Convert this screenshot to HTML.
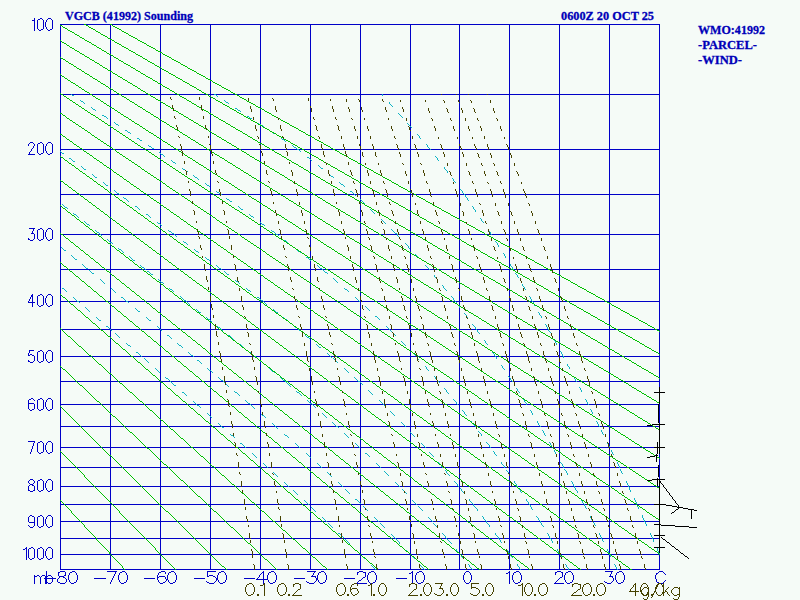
<!DOCTYPE html><html><head><meta charset="utf-8"><style>html,body{margin:0;padding:0;background:#f5fbf7;overflow:hidden}svg{display:block;position:absolute;left:0;top:0}.t{position:absolute;font-family:"Liberation Serif",serif;font-weight:bold;color:#0000b8;white-space:nowrap;transform-origin:0 0;-webkit-text-stroke:0.3px #0000b8}</style></head><body>
<svg width="800" height="600" viewBox="0 0 800 600" shape-rendering="crispEdges">
<path stroke="#0000c8" stroke-width="1" fill="none" d="M60 24.5h600M60 94.5h600M60 149.5h600M60 194.5h600M60 234.5h600M60 269.5h600M60 301.5h600M60 329.5h600M60 356.5h600M60 381.5h600M60 404.5h600M60 426.5h600M60 447.5h600M60 467.5h600M60 486.5h600M60 504.5h600M60 521.5h600M60 538.5h600M60 554.5h600M60 569.5h600M60.5 24v546M110.5 24v546M160.5 24v546M210.5 24v546M260.5 24v546M310.5 24v546M360.5 24v546M410.5 24v546M459.5 24v546M509.5 24v546M559.5 24v546M609.5 24v546M659.5 24v546"/>
<path stroke="#10b4c4" stroke-width="1" fill="none" d="M0 0m62 288.5h2m0 1h1m0 1h1m0 1h1m6 6h1m0 1h1m0 1h1m0 1h1m0 1h2m0 1h1m5 5h1m0 1h1m0 1h1m0 1h1m0 1h1m6 6h1m0 1h1m0 1h1m0 1h2m5 6h2m0 1h1m0 1h1m0 1h1m0 1h1m3 3h1m0 1h1m0 1h1m0 1h1m0 1h1m6 6h1m0 1h1m0 1h2m0 1h1m5 6h2m0 1h1m0 1h1m0 1h1m0 1h1m2 2h1m0 1h1m0 1h1m0 1h1m0 1h1m6 6h1m0 1h1m0 1h1m0 1h1m0 1h1m5 5h1m0 1h2m0 1h1m0 1h1m0 1h1m0 1h1m0 1h1m0 1h1m0 1h2m6 7h2m0 1h1m0 1h1m0 1h1m6 6h1m0 1h1m0 1h1m0 1h1m0 1h2m0 1h1m0 1h1m6 6h1m0 1h1m0 1h1m0 1h1m0 1h1m6 6h1m0 1h1m0 1h1m0 1h1m0 1h2m6 7h1m0 1h2m0 1h1m0 1h1m5 6h2m0 1h1m0 1h1m0 1h1m0 1h1m6 6h1m0 1h1m0 1h1m0 1h1m0 1h1m6 6h1m0 1h1m0 1h1m0 1h1m0 1h1m5 5h1m0 1h1m0 1h1m0 1h1m0 1h1m6 6h1m0 1h1m0 1h1m0 1h1m0 1h1m4 4h1m0 1h1m0 1h1m0 1h1m0 1h1m6 6h1m0 1h1m0 1h1m0 1h1m0 1h1m2 3h1m0 1h1m0 1h1m0 1h1m0 1h1m6 6h1m0 1h1m0 1h1m0 1h1m0 1h1m1 2h1m0 1h1m0 1h1m0 1h1m0 1h1m5 6h2m0 1h1m0 1h1m0 1h1m0 1h1m1 2h1m0 1h1m0 1h1m0 1h1m0 1h1m6 7h1m0 1h1m0 1h1m0 1h1m0 1h1m0 1h1m0 1h1m0 1h1m0 1h1m6 7h1m0 1h1m0 1h1m0 1h1m0 1h1m-315 -322h1m0 1h1m0 1h1m0 1h2m5 5h1m0 1h1m0 1h1m0 1h1m0 1h2m5 5h1m0 1h1m0 1h1m0 1h1m0 1h2m1 2h1m0 1h1m0 1h1m0 1h2m6 6h1m0 1h1m0 1h1m0 1h1m0 1h1m6 5h1m0 1h1m0 1h1m0 1h1m0 1h1m5 5h2m0 1h1m0 1h1m0 1h1m0 1h2m0 1h1m6 6h1m0 1h1m0 1h1m0 1h2m6 6h1m0 1h1m0 1h1m0 1h2m6 6h1m0 1h1m0 1h1m0 1h1m0 1h1m5 5h2m0 1h1m0 1h1m0 1h1m5 5h1m0 1h1m0 1h2m0 1h1m0 1h1m5 5h1m0 1h1m0 1h1m0 1h2m0 1h1m3 4h2m0 1h1m0 1h1m0 1h1m5 5h1m0 1h1m0 1h2m0 1h1m0 1h1m5 5h1m0 1h1m0 1h1m0 1h2m0 1h1m0 1h1m0 1h1m0 1h1m0 1h1m0 1h1m5 5h1m0 1h2m0 1h1m0 1h1m0 1h1m5 5h1m0 1h1m0 1h1m0 1h2m0 1h1m0 1h1m0 1h1m0 1h1m0 1h1m6 6h1m0 1h2m0 1h1m0 1h1m6 6h1m0 1h1m0 1h1m0 1h1m0 1h1m0 1h1m6 6h1m0 1h2m0 1h1m0 1h1m6 6h1m0 1h1m0 1h1m0 1h1m0 1h1m6 6h1m0 1h1m0 1h1m0 1h1m0 1h1m6 6h1m0 1h1m0 1h1m0 1h1m0 1h1m5 5h1m0 1h1m0 1h1m0 1h1m0 1h1m6 6h1m0 1h1m0 1h1m0 1h1m0 1h1m2 3h1m0 1h1m0 1h1m0 1h1m0 1h1m5 6h2m0 1h1m0 1h1m0 1h1m0 1h1m2 3h1m0 1h1m0 1h1m0 1h1m0 1h1m6 7h1m0 1h1m0 1h1m0 1h1m0 1h1m1 2h1m0 1h1m0 1h1m0 1h1m0 1h1m6 7h1m0 1h1m0 1h1m0 1h1m0 1h1m0 1h1m0 1h1m0 1h1m0 1h1m-1 1h1m6 7h1m0 1h1m0 1h1m0 1h1m0 1h1m0 1h1m0 1h1m0 1h1m0 1h1m5 7h1m0 1h1m0 1h1m0 1h1m0 1h1m-363 -365h1m0 1h1m0 1h1m0 1h2m0 1h1m5 5h1m0 1h2m0 1h1m0 1h1m0 1h1m5 4h1m0 1h1m0 1h1m0 1h2m0 1h1m5 5h1m0 1h1m0 1h2m0 1h1m0 1h1m0 1h1m5 4h1m0 1h1m0 1h1m0 1h2m0 1h1m5 5h1m0 1h2m0 1h1m0 1h1m0 1h1m5 4h1m0 1h1m0 1h1m0 1h1m0 1h2m5 5h1m0 1h1m0 1h2m0 1h1m0 1h1m1 2h2m0 1h1m0 1h1m0 1h2m5 5h1m0 1h1m0 1h1m0 1h2m0 1h1m5 5h1m0 1h2m0 1h1m0 1h1m6 5h1m0 1h1m0 1h1m0 1h1m0 1h2m0 1h1m0 1h1m0 1h1m0 1h1m6 5h1m0 1h1m0 1h1m0 1h2m5 5h1m0 1h1m0 1h2m0 1h1m0 1h1m5 5h1m0 1h2m0 1h1m0 1h1m0 1h1m5 5h2m0 1h1m0 1h1m0 1h1m0 1h1m5 5h2m0 1h1m0 1h1m0 1h1m6 5h1m0 1h1m0 1h1m0 1h1m0 1h2m3 4h1m0 1h2m0 1h1m0 1h1m5 5h1m0 1h1m0 1h1m0 1h2m0 1h1m5 5h1m0 1h1m0 1h1m0 1h2m0 1h1m0 1h1m0 1h1m0 1h1m0 1h1m0 1h1m5 5h1m0 1h2m0 1h1m0 1h1m0 1h1m5 5h1m0 1h1m0 1h1m0 1h2m0 1h1m0 1h1m0 1h1m0 1h1m6 6h1m0 1h1m0 1h1m0 1h1m0 1h1m5 5h1m0 1h1m0 1h1m0 1h1m0 1h2m0 1h1m5 6h1m0 1h1m0 1h1m0 1h1m0 1h1m6 6h1m0 1h1m0 1h1m0 1h1m0 1h1m5 6h2m0 1h1m0 1h1m0 1h1m6 7h1m0 1h1m0 1h1m0 1h1m0 1h1m3 4h1m0 1h1m0 1h1m0 1h1m0 1h1m6 7h1m0 1h1m0 1h1m0 1h1m0 1h1m2 3h1m0 1h1m0 1h1m0 1h1m0 1h1m5 7h1m0 1h1m0 1h1m0 1h1m0 1h1m1 2h1m0 1h1m0 1h1m0 1h1m0 1h1m5 7h1m0 1h1m0 1h1m0 1h1m0 1h1m0 2h1m0 1h1m0 1h1m0 1h1m0 1h1m4 6h1m0 1h1m0 1h1m0 1h1m-1 1h1m0 1h1m0 1h1m0 1h1m0 1h1m0 1h1m0 1h1m4 6h1m-1 1h1m0 1h1m0 1h1m0 1h1m0 1h1m0 1h1m-1 1h1m0 1h1m0 1h1m4 6h1m0 1h1m-1 1h1m0 1h1m0 1h1m0 1h1m-413 -418h1m0 1h1m0 1h2m5 5h2m0 1h1m0 1h1m0 1h2m6 5h1m0 1h1m0 1h1m0 1h2m6 5h1m0 1h1m0 1h1m0 1h2m6 5h1m0 1h1m0 1h1m0 1h2m6 5h1m0 1h1m0 1h1m0 1h2m0 1h1m3 3h1m0 1h2m0 1h1m0 1h1m0 1h1m6 5h2m0 1h1m0 1h1m0 1h1m6 5h2m0 1h1m0 1h1m0 1h1m6 5h1m0 1h2m0 1h1m0 1h1m6 5h1m0 1h2m0 1h1m0 1h2m0 1h1m0 1h1m0 1h1m6 5h1m0 1h2m0 1h1m0 1h1m6 5h1m0 1h1m0 1h2m0 1h1m6 5h1m0 1h1m0 1h2m0 1h1m6 5h1m0 1h1m0 1h1m0 1h2m0 1h1m2 2h1m0 1h1m0 1h1m0 1h2m6 6h1m0 1h2m0 1h1m0 1h1m6 5h1m0 1h1m0 1h2m0 1h1m6 6h2m0 1h1m0 1h1m0 1h2m0 1h1m0 1h1m0 1h1m0 1h1m6 5h1m0 1h1m0 1h1m0 1h2m5 5h1m0 1h1m0 1h2m0 1h1m0 1h1m5 5h1m0 1h2m0 1h1m0 1h1m0 1h1m5 5h1m0 1h1m0 1h2m0 1h1m6 6h1m0 1h1m0 1h1m0 1h2m6 6h1m0 1h1m0 1h1m0 1h1m0 1h1m1 1h1m0 1h1m0 1h1m0 1h1m0 1h1m6 6h1m0 1h1m0 1h1m0 1h1m0 1h1m5 5h1m0 1h1m0 1h1m0 1h1m0 1h2m0 1h1m0 1h1m0 1h1m5 6h1m0 1h1m0 1h1m0 1h1m0 1h1m6 6h1m0 1h1m0 1h1m0 1h1m0 1h1m0 1h1m5 6h1m0 1h1m0 1h1m0 1h1m0 1h1m6 7h1m0 1h1m0 1h1m0 1h1m0 1h1m4 6h1m0 1h1m0 1h1m0 1h1m0 1h1m6 7h1m0 1h1m0 1h1m0 1h1m0 1h1m3 5h1m0 1h1m0 1h1m0 1h1m0 1h1m4 6h1m0 1h1m0 1h1m0 1h1m-1 1h1m0 1h1m2 3h1m0 1h1m-1 1h1m0 1h1m0 1h1m0 1h1m4 6h1m0 1h1m0 1h1m0 1h1m-1 1h1m0 1h1m1 2h1m0 1h1m-1 1h1m0 1h1m0 1h1m0 1h1m4 6h1m-1 1h1m0 1h1m0 1h1m0 1h1m0 1h1m-1 1h1m0 1h1m0 1h1m0 1h1m0 1h1m-1 1h1m4 6h1m0 1h1m-1 1h1m0 1h1m0 1h1m0 1h1m-1 1h1m0 1h1m0 1h1m0 1h1m-1 1h1m5 7h1m-1 1h1m0 1h1m0 1h1m0 1h1m-1 1h1m0 1h1m0 1h1m-1 1h1m0 1h1m4 7h1m0 1h1m0 1h1m-1 1h1m0 1h1m0 1h1m-1 1h1m0 1h1m0 1h1m4 7h1m-1 1h1m0 1h1m0 1h1m-1 1h1m0 1h1m-450 -475h1m0 1h2m6 5h1m0 1h2m0 1h1m0 1h1m6 4h1m0 1h1m0 1h2m0 1h1m6 5h2m0 1h2m0 1h1m0 1h1m6 4h1m0 1h1m0 1h2m0 1h1m6 5h2m0 1h1m0 1h2m0 1h1m6 5h2m0 1h1m0 1h2m6 5h1m0 1h2m0 1h1m0 1h2m5 4h1m0 1h1m0 1h2m0 1h1m0 1h1m6 4h1m0 1h1m0 1h2m0 1h1m6 5h1m0 1h2m0 1h1m0 1h2m5 4h1m0 1h1m0 1h2m0 1h1m0 1h1m6 4h1m0 1h1m0 1h2m0 1h1m6 5h1m0 1h2m0 1h1m0 1h2m4 4h1m0 1h2m0 1h1m0 1h2m6 5h1m0 1h1m0 1h1m0 1h2m6 5h1m0 1h1m0 1h2m0 1h1m6 5h1m0 1h1m0 1h2m0 1h1m6 5h1m0 1h2m0 1h1m0 1h1m0 1h2m0 1h1m5 5h2m0 1h1m0 1h1m0 1h1m6 5h1m0 1h1m0 1h1m0 1h2m0 1h1m5 5h2m0 1h1m0 1h1m0 1h1m6 5h1m0 1h1m0 1h1m0 1h2m0 1h1m0 1h1m0 1h1m0 1h2m0 1h1m5 5h1m0 1h1m0 1h1m0 1h1m0 1h1m6 6h1m0 1h2m0 1h1m0 1h1m6 6h1m0 1h1m0 1h1m0 1h1m0 1h1m5 5h1m0 1h1m0 1h1m0 1h1m0 1h1m5 6h2m0 1h1m0 1h1m0 1h1m6 7h1m0 1h1m0 1h1m0 1h1m0 1h1m0 1h1m0 1h1m0 1h1m0 1h1m0 1h1m5 6h1m0 1h1m0 1h1m0 1h1m0 1h1m6 7h1m0 1h1m0 1h1m0 1h1m0 1h1m0 1h1m-1 1h1m0 1h1m6 7h1m0 1h1m-1 1h1m0 1h1m0 1h1m5 6h1m0 1h1m-1 1h1m0 1h1m0 1h1m0 1h1m0 1h1m4 6h1m0 1h1m0 1h1m-1 1h1m0 1h1m0 1h1m4 6h1m0 1h1m0 1h1m0 1h1m-1 1h1m0 1h1m4 6h1m0 1h1m0 1h1m-1 1h1m0 1h1m0 1h1m4 6h1m-1 1h1m0 1h1m0 1h1m0 1h1m0 1h1m2 5h1m0 1h1m0 1h1m0 1h1m-1 1h1m4 7h1m0 1h1m0 1h1m0 1h1m-1 1h1m0 1h1m2 4h1m0 1h1m-1 1h1m0 1h1m0 1h1m4 7h1m-1 1h1m0 1h1m0 1h1m0 1h1m-1 1h1m1 3h1m0 1h1m0 1h1m-1 1h1m0 1h1m4 7h1m-1 1h1m0 1h1m0 1h1m-1 1h1m0 1h1m0 2h1m0 1h1m0 1h1m-1 1h1m0 1h1m4 7h1m-1 1h1m0 1h1m0 1h1m-1 1h1m0 1h1m0 1h1m-1 1h1m0 1h1m-1 1h1m0 1h1m3 7h1m0 1h1m0 1h1m-1 1h1m0 1h1m0 1h1m-1 1h1m0 1h1m-1 1h1m0 1h1m0 1h1m3 7h1m0 1h1m-1 1h1m0 1h1m-1 1h1m0 1h1m0 1h1m-1 1h1m0 1h1m-1 1h1m4 7h1m-1 1h1m0 1h1m-1 1h1m0 1h1m0 1h1m-1 1h1m0 1h1m-1 1h1m3 7h1m0 1h1m-1 1h1m0 1h1m0 1h1m-1 1h1m-354.5 -475.5v1m1 -1v1m1 0v1m1 0v1m7 3v1m1 0v1m1 0v1m1 -1v1m1 0v1m7 4v1m1 -1v1m1 0v1m1 0v1m1 -1v1m1 0v1m7 4v1m1 -1v1m1 0v1m1 0v1m1 -1v1m7 4v1m1 0v1m1 -1v1m1 0v1m1 -1v1m1 0v1m6 3v1m1 0v1m1 -1v1m1 0v1m1 0v1m1 -1v1m7 4v1m1 0v1m1 -1v1m1 0v1m1 0v1m7 3v1m1 0v1m1 0v1m1 -1v1m1 0v1m1 0v1m1 -1v1m1 0v1m1 0v1m7 5v1m1 -1v1m1 0v1m1 0v1m1 0v1m7 4v1m1 0v1m1 0v1m1 0v1m1 -1v1m7 5v1m1 0v1m1 0v1m1 -1v1m1 0v1m6 4v1m1 0v1m1 0v1m1 -1v1m1 0v1m1 0v1m6 4v1m1 -1v1m1 0v1m1 0v1m1 0v1m1 0v1m5 3v1m1 0v1m1 0v1m1 0v1m1 0v1m6 5v1m1 0v1m1 0v1m1 0v1m1 0v1m7 5v1m1 0v1m1 0v1m1 0v1m1 0v1m6 5v1m1 0v1m1 0v1m1 0v1m1 0v1m1 -1v1m1 0v2m1 0v1m1 0v1m6 5v1m1 0v1m1 0v1m1 0v2m1 0v1m6 5v1m1 0v1m1 0v1m1 0v1m1 0v1m6 6v1m1 0v1m1 0v1m1 0v1m1 0v1m5 5v2m1 0v1m1 0v1m1 0v1m5 5v1m1 0v2m1 0v1m1 0v1m1 0v1m5 5v1m1 0v1m1 0v2m1 0v1m1 0v1m1 0v2m1 0v1m1 0v1m1 0v2m5 5v1m1 0v1m1 0v2m1 0v1m5 6v1m1 0v1m1 0v1m1 0v2m1 0v1m1 0v2m1 0v1m1 0v1m5 6v1m1 0v2m1 0v1m1 0v1m5 6v2m1 0v1m1 0v2m1 0v1m1 0v2m5 6v1m1 0v2m1 0v1m1 0v1m4 6v1m1 0v1m1 0v2m1 0v1m1 0v1m4 6v1m1 0v2m1 0v1m1 0v1m4 6v1m1 0v2m1 0v1m1 0v2m4 5v1m1 0v2m1 0v2m5 6v2m1 0v2m1 0v1m1 0v1m2 3v1m1 0v2m1 0v2m1 0v1m4 6v1m1 0v2m1 0v2m1 0v1m2 2v2m1 0v2m1 0v1m4 7v1m1 0v1m1 0v2m1 0v2m1 1v1m1 0v1m1 0v2m1 0v2m4 6v1m1 0v2m1 0v2m1 0v2m1 0v2m1 0v1m1 0v2m4 6v2m1 0v2m1 0v1m1 0v2m1 0v2m1 0v1m4 7v2m1 0v2m1 0v2m1 0v1m1 0v2m1 0v1m4 7v2m1 0v2m1 0v2m1 0v2m1 0v1m4 7v2m1 0v2m1 0v2m1 0v2m4 7v1m1 0v2m1 0v2m1 0v1m-235 -476v2m7 6v2m1 0v1m1 0v1m1 0v1m6 6v1m1 0v1m1 0v1m1 0v1m1 0v1m5 5v1m1 0v1m1 0v1m1 0v1m1 0v1m6 6v1m1 0v1m1 0v2m1 0v1m6 5v1m1 0v2m1 0v1m1 0v1m1 0v1m5 6v1m1 0v1m1 0v2m1 0v1m6 6v2m1 0v1m1 0v1m1 0v2m5 5v1m1 0v2m1 0v1m1 0v1m5 6v1m1 0v1m1 0v2m1 0v1m1 0v1m1 0v2m1 0v1m1 0v2m1 0v1m4 5v1m1 0v2m1 0v1m1 0v2m5 6v1m1 0v2m1 0v1m1 0v1m5 6v2m1 0v1m1 0v2m1 0v1m4 6v1m1 0v1m1 0v2m1 0v2m5 6v1m1 0v2m1 0v2m5 6v2m1 0v1m1 0v2m1 0v1m2 3v1m1 0v1m1 0v2m1 0v1m4 6v2m1 0v1m1 0v2m1 0v1m4 6v1m1 0v2m1 0v2m1 0v1m1 0v2m1 0v2m4 6v1m1 0v2m1 0v1m1 0v2m4 6v1m1 0v2m1 0v2m1 0v2m1 0v1m1 0v1m3 6v1m1 0v1m1 0v2m1 0v2m4 6v1m1 0v2m1 0v2m1 0v2m4 6v2m1 0v1m1 0v2m4 7v1m1 0v2m1 0v2m1 0v1m3 5v1m1 0v2m1 0v2m4 7v1m1 0v2m1 0v2m1 0v1m2 4v1m1 0v2m1 0v2m4 7v1m1 0v2m1 0v2m1 0v1m2 3v2m1 0v2m1 0v1m4 7v2m1 0v2m1 0v2m2 2v2m1 0v2m1 0v1m4 7v2m1 0v2m1 0v2m1 1v2m1 0v2m1 0v1m4 7v2m1 0v2m1 0v2m1 0v3m1 0v2m4 6v2m1 0v2m1 0v3m1 0v2m1 0v2m4 6v3m1 0v2m1 0v2m1 0v2m1 0v2m4 7v2m1 0v2m1 0v2m1 0v3m4 6v3m1 0v2m1 0v2"/>
<path stroke="#00c000" stroke-width="1" fill="none" d="M0 0m60.5 500v1m1 0v1m1 0v1m1 0v1m1 0v1m1 0v1m1 0v1m1 0v1m1 0v1m1 0v1m1 0v1m1 0v2m1 0v1m1 0v1m1 0v1m1 0v1m1 0v1m1 0v1m1 0v1m1 0v1m1 0v1m1 0v1m1 0v1m1 0v1m1 0v2m1 0v1m1 0v1m1 0v1m1 0v1m1 0v1m1 0v1m1 0v1m1 0v1m1 0v1m1 0v1m1 0v1m1 0v2m1 0v1m1 0v1m1 0v1m1 0v1m1 0v1m1 0v1m1 0v1m1 0v1m1 0v1m1 0v1m1 0v1m1 0v1m1 0v2m1 0v1m1 0v1m1 0v1m1 0v1m1 0v1m1 0v1m1 0v1m1 0v1m1 0v1m1 0v1m1 0v1m1 0v1m1 0v2m1 0v1m1 0v1m-64 -119v1m1 0v1m1 0v1m1 0v1m1 0v1m1 0v1m1 0v1m1 0v1m1 0v1m1 0v1m1 0v1m1 0v1m1 0v1m1 0v1m1 0v1m1 0v1m1 0v1m1 0v1m1 0v1m1 0v1m1 0v1m1 0v1m1 0v1m1 0v1m1 0v2m1 0v1m1 0v1m1 0v1m1 0v1m1 0v1m1 0v1m1 0v1m1 0v1m1 0v1m1 0v1m1 0v1m1 0v1m1 0v1m1 0v1m1 0v1m1 0v1m1 0v1m1 0v1m1 0v1m1 0v1m1 0v1m1 0v1m1 0v1m1 0v1m1 0v1m1 0v1m1 0v1m1 0v1m1 0v1m1 0v1m1 0v1m1 0v1m1 0v1m1 0v1m1 0v2m1 0v1m1 0v1m1 0v1m1 0v1m1 0v1m1 0v1m1 0v1m1 0v1m1 0v1m1 0v1m1 0v1m1 0v1m1 0v1m1 0v1m1 0v1m1 0v1m1 0v1m1 0v1m1 0v1m1 0v1m1 0v1m1 0v1m1 0v1m1 0v1m1 0v1m1 0v1m1 0v1m1 0v1m1 0v1m1 0v1m1 0v1m1 0v1m1 0v1m1 0v1m1 0v1m1 0v2m1 0v1m1 0v1m1 0v1m1 0v1m1 0v1m1 0v1m1 0v1m1 0v1m1 0v1m1 0v1m1 0v1m1 0v1m1 0v1m1 0v1m1 0v1m1 0v1m1 0v1m1 0v1m1 0v1m1 0v1m-115.5 -163.5h1m0 1h1m0 1h1m0 1h1m0 1h1m0 1h1m0 1h1m0 1h1m0 1h1m0 1h1m0 1h1m0 1h1m0 1h1m0 1h1m0 1h1m0 1h1m0 1h1m0 1h1m0 1h1m0 1h1m0 1h1m0 1h1m0 1h1m0 1h1m0 1h1m0 1h1m0 1h1m0 1h1m0 1h1m0 1h1m0 1h1m0 1h1m0 1h1m0 1h1m0 1h1m0 1h1m0 1h1m0 1h1m0 1h1m0 1h1m0 1h1m0 1h1m0 1h1m0 1h1m0 1h1m0 1h1m0 1h1m0 1h1m0 1h1m0 1h2m0 1h1m0 1h1m0 1h1m0 1h1m0 1h1m0 1h1m0 1h1m0 1h1m0 1h1m0 1h1m0 1h1m0 1h1m0 1h1m0 1h1m0 1h1m0 1h1m0 1h1m0 1h1m0 1h1m0 1h1m0 1h1m0 1h1m0 1h1m0 1h1m0 1h1m0 1h1m0 1h1m0 1h1m0 1h1m0 1h1m0 1h1m0 1h1m0 1h1m0 1h1m0 1h1m0 1h1m0 1h1m0 1h1m0 1h1m0 1h1m0 1h1m0 1h1m0 1h1m0 1h1m0 1h1m0 1h1m0 1h1m0 1h1m0 1h1m0 1h1m0 1h1m0 1h1m0 1h1m0 1h1m0 1h1m0 1h2m0 1h1m0 1h1m0 1h1m0 1h1m0 1h1m0 1h1m0 1h1m0 1h1m0 1h1m0 1h1m0 1h1m0 1h1m0 1h1m0 1h1m0 1h1m0 1h1m0 1h1m0 1h1m0 1h1m0 1h1m0 1h1m0 1h1m0 1h1m0 1h1m0 1h1m0 1h1m0 1h1m0 1h1m0 1h1m0 1h1m0 1h1m0 1h1m0 1h1m0 1h1m0 1h1m0 1h1m0 1h1m0 1h1m0 1h1m0 1h1m0 1h1m0 1h1m0 1h1m0 1h1m0 1h1m0 1h1m0 1h1m0 1h1m0 1h1m0 1h1m0 1h1m0 1h1m0 1h1m0 1h1m0 1h2m0 1h1m0 1h1m0 1h1m-167 -203h1m0 1h1m0 1h1m0 1h2m0 1h1m0 1h1m0 1h1m0 1h1m0 1h1m0 1h1m0 1h1m0 1h1m0 1h1m0 1h1m0 1h1m0 1h1m0 1h1m0 1h1m0 1h1m0 1h2m0 1h1m0 1h1m0 1h1m0 1h1m0 1h1m0 1h1m0 1h1m0 1h1m0 1h1m0 1h1m0 1h1m0 1h1m0 1h1m0 1h1m0 1h1m0 1h2m0 1h1m0 1h1m0 1h1m0 1h1m0 1h1m0 1h1m0 1h1m0 1h1m0 1h1m0 1h1m0 1h1m0 1h1m0 1h1m0 1h1m0 1h2m0 1h1m0 1h1m0 1h1m0 1h1m0 1h1m0 1h1m0 1h1m0 1h1m0 1h1m0 1h1m0 1h1m0 1h1m0 1h1m0 1h1m0 1h1m0 1h2m0 1h1m0 1h1m0 1h1m0 1h1m0 1h1m0 1h1m0 1h1m0 1h1m0 1h1m0 1h1m0 1h1m0 1h1m0 1h1m0 1h1m0 1h1m0 1h2m0 1h1m0 1h1m0 1h1m0 1h1m0 1h1m0 1h1m0 1h1m0 1h1m0 1h1m0 1h1m0 1h1m0 1h1m0 1h1m0 1h1m0 1h1m0 1h2m0 1h1m0 1h1m0 1h1m0 1h1m0 1h1m0 1h1m0 1h1m0 1h1m0 1h1m0 1h1m0 1h1m0 1h1m0 1h1m0 1h1m0 1h1m0 1h2m0 1h1m0 1h1m0 1h1m0 1h1m0 1h1m0 1h1m0 1h1m0 1h1m0 1h1m0 1h1m0 1h1m0 1h1m0 1h1m0 1h1m0 1h1m0 1h2m0 1h1m0 1h1m0 1h1m0 1h1m0 1h1m0 1h1m0 1h1m0 1h1m0 1h1m0 1h1m0 1h1m0 1h1m0 1h1m0 1h1m0 1h2m0 1h1m0 1h1m0 1h1m0 1h1m0 1h1m0 1h1m0 1h1m0 1h1m0 1h1m0 1h1m0 1h1m0 1h1m0 1h1m0 1h1m0 1h1m0 1h2m0 1h1m0 1h1m0 1h1m0 1h1m0 1h1m0 1h1m0 1h1m0 1h1m0 1h1m0 1h1m0 1h1m0 1h1m0 1h1m0 1h1m0 1h1m0 1h2m0 1h1m0 1h1m0 1h1m0 1h1m0 1h1m0 1h1m0 1h1m0 1h1m0 1h1m0 1h1m0 1h1m0 1h1m0 1h1m0 1h1m0 1h1m0 1h2m0 1h1m0 1h1m0 1h1m0 1h1m0 1h1m0 1h1m0 1h1m0 1h1m0 1h1m0 1h1m-217 -241h1m0 1h1m0 1h1m0 1h1m0 1h1m0 1h1m0 1h1m0 1h1m0 1h2m0 1h1m0 1h1m0 1h1m0 1h1m0 1h1m0 1h1m0 1h1m0 1h1m0 1h1m0 1h2m0 1h1m0 1h1m0 1h1m0 1h1m0 1h1m0 1h1m0 1h1m0 1h1m0 1h2m0 1h1m0 1h1m0 1h1m0 1h1m0 1h1m0 1h1m0 1h1m0 1h1m0 1h2m0 1h1m0 1h1m0 1h1m0 1h1m0 1h1m0 1h1m0 1h1m0 1h1m0 1h2m0 1h1m0 1h1m0 1h1m0 1h1m0 1h1m0 1h1m0 1h1m0 1h1m0 1h1m0 1h2m0 1h1m0 1h1m0 1h1m0 1h1m0 1h1m0 1h1m0 1h1m0 1h1m0 1h2m0 1h1m0 1h1m0 1h1m0 1h1m0 1h1m0 1h1m0 1h1m0 1h1m0 1h2m0 1h1m0 1h1m0 1h1m0 1h1m0 1h1m0 1h1m0 1h1m0 1h1m0 1h2m0 1h1m0 1h1m0 1h1m0 1h1m0 1h1m0 1h1m0 1h1m0 1h1m0 1h1m0 1h2m0 1h1m0 1h1m0 1h1m0 1h1m0 1h1m0 1h1m0 1h1m0 1h1m0 1h2m0 1h1m0 1h1m0 1h1m0 1h1m0 1h1m0 1h1m0 1h1m0 1h1m0 1h2m0 1h1m0 1h1m0 1h1m0 1h1m0 1h1m0 1h1m0 1h1m0 1h1m0 1h2m0 1h1m0 1h1m0 1h1m0 1h1m0 1h1m0 1h1m0 1h1m0 1h1m0 1h2m0 1h1m0 1h1m0 1h1m0 1h1m0 1h1m0 1h1m0 1h1m0 1h1m0 1h1m0 1h2m0 1h1m0 1h1m0 1h1m0 1h1m0 1h1m0 1h1m0 1h1m0 1h1m0 1h2m0 1h1m0 1h1m0 1h1m0 1h1m0 1h1m0 1h1m0 1h1m0 1h1m0 1h2m0 1h1m0 1h1m0 1h1m0 1h1m0 1h1m0 1h1m0 1h1m0 1h1m0 1h2m0 1h1m0 1h1m0 1h1m0 1h1m0 1h1m0 1h1m0 1h1m0 1h1m0 1h2m0 1h1m0 1h1m0 1h1m0 1h1m0 1h1m0 1h1m0 1h1m0 1h1m0 1h2m0 1h1m0 1h1m0 1h1m0 1h1m0 1h1m0 1h1m0 1h1m0 1h1m0 1h1m0 1h2m0 1h1m0 1h1m0 1h1m0 1h1m0 1h1m0 1h1m0 1h1m0 1h1m0 1h2m0 1h1m0 1h1m0 1h1m0 1h1m0 1h1m0 1h1m0 1h1m0 1h1m0 1h2m0 1h1m0 1h1m0 1h1m0 1h1m0 1h1m0 1h1m0 1h1m0 1h1m0 1h2m0 1h1m0 1h1m0 1h1m0 1h1m0 1h1m0 1h1m0 1h1m0 1h1m0 1h2m0 1h1m0 1h1m0 1h1m0 1h1m0 1h1m0 1h1m0 1h1m0 1h1m0 1h2m0 1h1m0 1h1m0 1h1m-268 -275h1m0 1h1m0 1h1m0 1h2m0 1h1m0 1h1m0 1h1m0 1h1m0 1h1m0 1h1m0 1h2m0 1h1m0 1h1m0 1h1m0 1h1m0 1h1m0 1h2m0 1h1m0 1h1m0 1h1m0 1h1m0 1h1m0 1h1m0 1h2m0 1h1m0 1h1m0 1h1m0 1h1m0 1h1m0 1h2m0 1h1m0 1h1m0 1h1m0 1h1m0 1h1m0 1h1m0 1h2m0 1h1m0 1h1m0 1h1m0 1h1m0 1h1m0 1h2m0 1h1m0 1h1m0 1h1m0 1h1m0 1h1m0 1h1m0 1h2m0 1h1m0 1h1m0 1h1m0 1h1m0 1h1m0 1h2m0 1h1m0 1h1m0 1h1m0 1h1m0 1h1m0 1h1m0 1h2m0 1h1m0 1h1m0 1h1m0 1h1m0 1h1m0 1h2m0 1h1m0 1h1m0 1h1m0 1h1m0 1h1m0 1h1m0 1h2m0 1h1m0 1h1m0 1h1m0 1h1m0 1h1m0 1h2m0 1h1m0 1h1m0 1h1m0 1h1m0 1h1m0 1h1m0 1h2m0 1h1m0 1h1m0 1h1m0 1h1m0 1h1m0 1h2m0 1h1m0 1h1m0 1h1m0 1h1m0 1h1m0 1h1m0 1h2m0 1h1m0 1h1m0 1h1m0 1h1m0 1h1m0 1h2m0 1h1m0 1h1m0 1h1m0 1h1m0 1h1m0 1h1m0 1h2m0 1h1m0 1h1m0 1h1m0 1h1m0 1h1m0 1h2m0 1h1m0 1h1m0 1h1m0 1h1m0 1h1m0 1h1m0 1h2m0 1h1m0 1h1m0 1h1m0 1h1m0 1h1m0 1h2m0 1h1m0 1h1m0 1h1m0 1h1m0 1h1m0 1h1m0 1h2m0 1h1m0 1h1m0 1h1m0 1h1m0 1h1m0 1h2m0 1h1m0 1h1m0 1h1m0 1h1m0 1h1m0 1h1m0 1h2m0 1h1m0 1h1m0 1h1m0 1h1m0 1h1m0 1h2m0 1h1m0 1h1m0 1h1m0 1h1m0 1h1m0 1h1m0 1h2m0 1h1m0 1h1m0 1h1m0 1h1m0 1h1m0 1h2m0 1h1m0 1h1m0 1h1m0 1h1m0 1h1m0 1h1m0 1h2m0 1h1m0 1h1m0 1h1m0 1h1m0 1h1m0 1h2m0 1h1m0 1h1m0 1h1m0 1h1m0 1h1m0 1h1m0 1h2m0 1h1m0 1h1m0 1h1m0 1h1m0 1h1m0 1h2m0 1h1m0 1h1m0 1h1m0 1h1m0 1h1m0 1h1m0 1h2m0 1h1m0 1h1m0 1h1m0 1h1m0 1h1m0 1h2m0 1h1m0 1h1m0 1h1m0 1h1m0 1h1m0 1h1m0 1h2m0 1h1m0 1h1m0 1h1m0 1h1m0 1h1m0 1h2m0 1h1m0 1h1m0 1h1m0 1h1m0 1h1m0 1h2m0 1h1m0 1h1m0 1h1m0 1h1m0 1h1m0 1h1m0 1h2m0 1h1m0 1h1m0 1h1m0 1h1m0 1h1m0 1h2m0 1h1m0 1h1m0 1h1m0 1h1m0 1h1m0 1h1m0 1h2m0 1h1m0 1h1m0 1h1m0 1h1m0 1h1m0 1h2m0 1h1m0 1h1m0 1h1m0 1h1m0 1h1m0 1h1m0 1h2m0 1h1m0 1h1m0 1h1m0 1h1m0 1h1m0 1h2m0 1h1m0 1h1m0 1h1m0 1h1m0 1h1m0 1h1m-318 -307h1m0 1h1m0 1h1m0 1h1m0 1h2m0 1h1m0 1h1m0 1h1m0 1h1m0 1h2m0 1h1m0 1h1m0 1h1m0 1h1m0 1h2m0 1h1m0 1h1m0 1h1m0 1h1m0 1h2m0 1h1m0 1h1m0 1h1m0 1h1m0 1h2m0 1h1m0 1h1m0 1h1m0 1h1m0 1h2m0 1h1m0 1h1m0 1h1m0 1h1m0 1h2m0 1h1m0 1h1m0 1h1m0 1h1m0 1h2m0 1h1m0 1h1m0 1h1m0 1h1m0 1h2m0 1h1m0 1h1m0 1h1m0 1h1m0 1h2m0 1h1m0 1h1m0 1h1m0 1h1m0 1h2m0 1h1m0 1h1m0 1h1m0 1h1m0 1h2m0 1h1m0 1h1m0 1h1m0 1h1m0 1h2m0 1h1m0 1h1m0 1h1m0 1h1m0 1h2m0 1h1m0 1h1m0 1h1m0 1h1m0 1h2m0 1h1m0 1h1m0 1h1m0 1h1m0 1h2m0 1h1m0 1h1m0 1h1m0 1h1m0 1h2m0 1h1m0 1h1m0 1h1m0 1h1m0 1h2m0 1h1m0 1h1m0 1h1m0 1h1m0 1h2m0 1h1m0 1h1m0 1h1m0 1h1m0 1h2m0 1h1m0 1h1m0 1h1m0 1h1m0 1h2m0 1h1m0 1h1m0 1h1m0 1h1m0 1h2m0 1h1m0 1h1m0 1h1m0 1h1m0 1h2m0 1h1m0 1h1m0 1h1m0 1h1m0 1h2m0 1h1m0 1h1m0 1h1m0 1h1m0 1h2m0 1h1m0 1h1m0 1h1m0 1h1m0 1h2m0 1h1m0 1h1m0 1h1m0 1h1m0 1h2m0 1h1m0 1h1m0 1h1m0 1h1m0 1h2m0 1h1m0 1h1m0 1h1m0 1h1m0 1h2m0 1h1m0 1h1m0 1h1m0 1h1m0 1h1m0 1h2m0 1h1m0 1h1m0 1h1m0 1h1m0 1h2m0 1h1m0 1h1m0 1h1m0 1h1m0 1h2m0 1h1m0 1h1m0 1h1m0 1h1m0 1h2m0 1h1m0 1h1m0 1h1m0 1h1m0 1h2m0 1h1m0 1h1m0 1h1m0 1h1m0 1h2m0 1h1m0 1h1m0 1h1m0 1h1m0 1h2m0 1h1m0 1h1m0 1h1m0 1h1m0 1h2m0 1h1m0 1h1m0 1h1m0 1h1m0 1h2m0 1h1m0 1h1m0 1h1m0 1h1m0 1h2m0 1h1m0 1h1m0 1h1m0 1h1m0 1h2m0 1h1m0 1h1m0 1h1m0 1h1m0 1h2m0 1h1m0 1h1m0 1h1m0 1h1m0 1h2m0 1h1m0 1h1m0 1h1m0 1h1m0 1h2m0 1h1m0 1h1m0 1h1m0 1h1m0 1h2m0 1h1m0 1h1m0 1h1m0 1h1m0 1h2m0 1h1m0 1h1m0 1h1m0 1h1m0 1h2m0 1h1m0 1h1m0 1h1m0 1h1m0 1h2m0 1h1m0 1h1m0 1h1m0 1h1m0 1h2m0 1h1m0 1h1m0 1h1m0 1h1m0 1h2m0 1h1m0 1h1m0 1h1m0 1h1m0 1h2m0 1h1m0 1h1m0 1h1m0 1h1m0 1h2m0 1h1m0 1h1m0 1h1m0 1h1m0 1h2m0 1h1m0 1h1m0 1h1m0 1h2m0 1h1m0 1h1m0 1h1m0 1h1m0 1h2m0 1h1m0 1h1m0 1h1m0 1h1m0 1h2m0 1h1m0 1h1m0 1h1m0 1h1m0 1h2m0 1h1m0 1h1m0 1h1m0 1h1m0 1h2m0 1h1m0 1h1m0 1h1m0 1h1m0 1h2m0 1h1m0 1h1m0 1h1m0 1h1m0 1h2m0 1h1m0 1h1m0 1h1m0 1h1m0 1h2m0 1h1m0 1h1m0 1h1m0 1h1m0 1h2m0 1h1m0 1h1m0 1h1m-369 -336h1m0 1h2m0 1h1m0 1h1m0 1h1m0 1h2m0 1h1m0 1h1m0 1h1m0 1h2m0 1h1m0 1h1m0 1h1m0 1h2m0 1h1m0 1h1m0 1h1m0 1h2m0 1h1m0 1h1m0 1h1m0 1h2m0 1h1m0 1h1m0 1h1m0 1h2m0 1h1m0 1h1m0 1h1m0 1h2m0 1h1m0 1h1m0 1h1m0 1h1m0 1h2m0 1h1m0 1h1m0 1h1m0 1h2m0 1h1m0 1h1m0 1h1m0 1h2m0 1h1m0 1h1m0 1h1m0 1h2m0 1h1m0 1h1m0 1h1m0 1h2m0 1h1m0 1h1m0 1h1m0 1h2m0 1h1m0 1h1m0 1h1m0 1h2m0 1h1m0 1h1m0 1h1m0 1h2m0 1h1m0 1h1m0 1h1m0 1h2m0 1h1m0 1h1m0 1h1m0 1h2m0 1h1m0 1h1m0 1h1m0 1h1m0 1h2m0 1h1m0 1h1m0 1h1m0 1h2m0 1h1m0 1h1m0 1h1m0 1h2m0 1h1m0 1h1m0 1h1m0 1h2m0 1h1m0 1h1m0 1h1m0 1h2m0 1h1m0 1h1m0 1h1m0 1h2m0 1h1m0 1h1m0 1h1m0 1h2m0 1h1m0 1h1m0 1h1m0 1h2m0 1h1m0 1h1m0 1h1m0 1h2m0 1h1m0 1h1m0 1h1m0 1h2m0 1h1m0 1h1m0 1h1m0 1h2m0 1h1m0 1h1m0 1h1m0 1h1m0 1h2m0 1h1m0 1h1m0 1h1m0 1h2m0 1h1m0 1h1m0 1h1m0 1h2m0 1h1m0 1h1m0 1h1m0 1h2m0 1h1m0 1h1m0 1h1m0 1h2m0 1h1m0 1h1m0 1h1m0 1h2m0 1h1m0 1h1m0 1h1m0 1h2m0 1h1m0 1h1m0 1h1m0 1h2m0 1h1m0 1h1m0 1h1m0 1h2m0 1h1m0 1h1m0 1h1m0 1h2m0 1h1m0 1h1m0 1h1m0 1h2m0 1h1m0 1h1m0 1h1m0 1h2m0 1h1m0 1h1m0 1h1m0 1h1m0 1h2m0 1h1m0 1h1m0 1h1m0 1h2m0 1h1m0 1h1m0 1h1m0 1h2m0 1h1m0 1h1m0 1h1m0 1h2m0 1h1m0 1h1m0 1h1m0 1h2m0 1h1m0 1h1m0 1h1m0 1h2m0 1h1m0 1h1m0 1h1m0 1h2m0 1h1m0 1h1m0 1h1m0 1h2m0 1h1m0 1h1m0 1h1m0 1h2m0 1h1m0 1h1m0 1h1m0 1h2m0 1h1m0 1h1m0 1h1m0 1h2m0 1h1m0 1h1m0 1h1m0 1h2m0 1h1m0 1h1m0 1h1m0 1h2m0 1h1m0 1h1m0 1h1m0 1h1m0 1h2m0 1h1m0 1h1m0 1h1m0 1h2m0 1h1m0 1h1m0 1h1m0 1h2m0 1h1m0 1h1m0 1h1m0 1h2m0 1h1m0 1h1m0 1h1m0 1h2m0 1h1m0 1h1m0 1h1m0 1h2m0 1h1m0 1h1m0 1h1m0 1h2m0 1h1m0 1h1m0 1h1m0 1h2m0 1h1m0 1h1m0 1h1m0 1h2m0 1h1m0 1h1m0 1h1m0 1h2m0 1h1m0 1h1m0 1h1m0 1h2m0 1h1m0 1h1m0 1h1m0 1h2m0 1h1m0 1h1m0 1h1m0 1h2m0 1h1m0 1h1m0 1h1m0 1h2m0 1h1m0 1h1m0 1h1m0 1h1m0 1h2m0 1h1m0 1h1m0 1h1m0 1h2m0 1h1m0 1h1m0 1h1m0 1h2m0 1h1m0 1h1m0 1h1m0 1h2m0 1h1m0 1h1m0 1h1m0 1h2m0 1h1m0 1h1m0 1h1m0 1h2m0 1h1m0 1h1m0 1h1m0 1h2m0 1h1m0 1h1m0 1h1m0 1h2m0 1h1m0 1h1m0 1h1m0 1h2m0 1h1m0 1h1m0 1h1m0 1h2m0 1h1m0 1h1m0 1h1m0 1h2m0 1h1m0 1h1m0 1h1m0 1h2m0 1h1m0 1h1m0 1h1m0 1h2m0 1h1m0 1h1m0 1h1m0 1h2m0 1h1m0 1h1m0 1h1m0 1h2m0 1h1m-420 -364h1m0 1h1m0 1h1m0 1h2m0 1h1m0 1h1m0 1h1m0 1h2m0 1h1m0 1h1m0 1h2m0 1h1m0 1h1m0 1h1m0 1h2m0 1h1m0 1h1m0 1h2m0 1h1m0 1h1m0 1h1m0 1h2m0 1h1m0 1h1m0 1h2m0 1h1m0 1h1m0 1h1m0 1h2m0 1h1m0 1h1m0 1h2m0 1h1m0 1h1m0 1h1m0 1h2m0 1h1m0 1h1m0 1h2m0 1h1m0 1h1m0 1h2m0 1h1m0 1h1m0 1h1m0 1h2m0 1h1m0 1h1m0 1h2m0 1h1m0 1h1m0 1h1m0 1h2m0 1h1m0 1h1m0 1h2m0 1h1m0 1h1m0 1h1m0 1h2m0 1h1m0 1h1m0 1h2m0 1h1m0 1h1m0 1h1m0 1h2m0 1h1m0 1h1m0 1h2m0 1h1m0 1h1m0 1h1m0 1h2m0 1h1m0 1h1m0 1h2m0 1h1m0 1h1m0 1h2m0 1h1m0 1h1m0 1h1m0 1h2m0 1h1m0 1h1m0 1h2m0 1h1m0 1h1m0 1h1m0 1h2m0 1h1m0 1h1m0 1h2m0 1h1m0 1h1m0 1h1m0 1h2m0 1h1m0 1h1m0 1h2m0 1h1m0 1h1m0 1h1m0 1h2m0 1h1m0 1h1m0 1h2m0 1h1m0 1h1m0 1h2m0 1h1m0 1h1m0 1h1m0 1h2m0 1h1m0 1h1m0 1h2m0 1h1m0 1h1m0 1h1m0 1h2m0 1h1m0 1h1m0 1h2m0 1h1m0 1h1m0 1h1m0 1h2m0 1h1m0 1h1m0 1h2m0 1h1m0 1h1m0 1h1m0 1h2m0 1h1m0 1h1m0 1h2m0 1h1m0 1h1m0 1h1m0 1h2m0 1h1m0 1h1m0 1h2m0 1h1m0 1h1m0 1h2m0 1h1m0 1h1m0 1h1m0 1h2m0 1h1m0 1h1m0 1h2m0 1h1m0 1h1m0 1h1m0 1h2m0 1h1m0 1h1m0 1h2m0 1h1m0 1h1m0 1h1m0 1h2m0 1h1m0 1h1m0 1h2m0 1h1m0 1h1m0 1h1m0 1h2m0 1h1m0 1h1m0 1h2m0 1h1m0 1h1m0 1h2m0 1h1m0 1h1m0 1h1m0 1h2m0 1h1m0 1h1m0 1h2m0 1h1m0 1h1m0 1h1m0 1h2m0 1h1m0 1h1m0 1h2m0 1h1m0 1h1m0 1h1m0 1h2m0 1h1m0 1h1m0 1h2m0 1h1m0 1h1m0 1h2m0 1h1m0 1h1m0 1h1m0 1h2m0 1h1m0 1h1m0 1h2m0 1h1m0 1h1m0 1h1m0 1h2m0 1h1m0 1h1m0 1h2m0 1h1m0 1h1m0 1h1m0 1h2m0 1h1m0 1h1m0 1h2m0 1h1m0 1h1m0 1h1m0 1h2m0 1h1m0 1h1m0 1h2m0 1h1m0 1h1m0 1h2m0 1h1m0 1h1m0 1h1m0 1h2m0 1h1m0 1h1m0 1h2m0 1h1m0 1h1m0 1h1m0 1h2m0 1h1m0 1h1m0 1h2m0 1h1m0 1h1m0 1h1m0 1h2m0 1h1m0 1h1m0 1h2m0 1h1m0 1h1m0 1h2m0 1h1m0 1h1m0 1h1m0 1h2m0 1h1m0 1h1m0 1h2m0 1h1m0 1h1m0 1h1m0 1h2m0 1h1m0 1h1m0 1h2m0 1h1m0 1h1m0 1h1m0 1h2m0 1h1m0 1h1m0 1h2m0 1h1m0 1h1m0 1h1m0 1h2m0 1h1m0 1h1m0 1h2m0 1h1m0 1h1m0 1h2m0 1h1m0 1h1m0 1h1m0 1h2m0 1h1m0 1h1m0 1h2m0 1h1m0 1h1m0 1h1m0 1h2m0 1h1m0 1h1m0 1h2m0 1h1m0 1h1m0 1h1m0 1h2m0 1h1m0 1h1m0 1h2m0 1h1m0 1h1m0 1h2m0 1h1m0 1h1m0 1h1m0 1h2m0 1h1m0 1h1m0 1h2m0 1h1m0 1h1m0 1h1m0 1h2m0 1h1m0 1h1m0 1h2m0 1h1m0 1h1m0 1h1m0 1h2m0 1h1m0 1h1m0 1h2m0 1h1m0 1h1m0 1h2m0 1h1m0 1h1m0 1h1m0 1h2m0 1h1m0 1h1m0 1h2m0 1h1m0 1h1m0 1h1m0 1h2m0 1h1m0 1h1m0 1h2m0 1h1m0 1h1m0 1h1m0 1h2m0 1h1m0 1h1m0 1h2m0 1h1m0 1h1m0 1h2m0 1h1m0 1h1m0 1h1m-470 -389h1m0 1h2m0 1h1m0 1h1m0 1h2m0 1h1m0 1h1m0 1h2m0 1h1m0 1h1m0 1h2m0 1h1m0 1h1m0 1h2m0 1h1m0 1h1m0 1h2m0 1h1m0 1h1m0 1h2m0 1h1m0 1h1m0 1h2m0 1h1m0 1h1m0 1h2m0 1h1m0 1h1m0 1h2m0 1h1m0 1h1m0 1h2m0 1h1m0 1h1m0 1h2m0 1h1m0 1h1m0 1h2m0 1h1m0 1h1m0 1h2m0 1h1m0 1h1m0 1h2m0 1h1m0 1h1m0 1h2m0 1h1m0 1h1m0 1h2m0 1h1m0 1h1m0 1h2m0 1h1m0 1h1m0 1h2m0 1h1m0 1h1m0 1h2m0 1h1m0 1h1m0 1h2m0 1h1m0 1h1m0 1h2m0 1h1m0 1h1m0 1h2m0 1h1m0 1h1m0 1h2m0 1h1m0 1h1m0 1h2m0 1h1m0 1h1m0 1h2m0 1h1m0 1h1m0 1h2m0 1h1m0 1h1m0 1h2m0 1h1m0 1h1m0 1h2m0 1h1m0 1h1m0 1h2m0 1h1m0 1h1m0 1h2m0 1h1m0 1h1m0 1h2m0 1h1m0 1h1m0 1h2m0 1h1m0 1h1m0 1h2m0 1h1m0 1h1m0 1h2m0 1h1m0 1h2m0 1h1m0 1h1m0 1h2m0 1h1m0 1h1m0 1h2m0 1h1m0 1h1m0 1h2m0 1h1m0 1h1m0 1h2m0 1h1m0 1h1m0 1h2m0 1h1m0 1h1m0 1h2m0 1h1m0 1h1m0 1h2m0 1h1m0 1h1m0 1h2m0 1h1m0 1h1m0 1h2m0 1h1m0 1h1m0 1h2m0 1h1m0 1h1m0 1h2m0 1h1m0 1h1m0 1h2m0 1h1m0 1h1m0 1h2m0 1h1m0 1h1m0 1h2m0 1h1m0 1h1m0 1h2m0 1h1m0 1h1m0 1h2m0 1h1m0 1h1m0 1h2m0 1h1m0 1h1m0 1h2m0 1h1m0 1h1m0 1h2m0 1h1m0 1h1m0 1h2m0 1h1m0 1h1m0 1h2m0 1h1m0 1h1m0 1h2m0 1h1m0 1h1m0 1h2m0 1h1m0 1h1m0 1h2m0 1h1m0 1h1m0 1h2m0 1h1m0 1h1m0 1h2m0 1h1m0 1h1m0 1h2m0 1h1m0 1h1m0 1h2m0 1h1m0 1h1m0 1h2m0 1h1m0 1h1m0 1h2m0 1h1m0 1h1m0 1h2m0 1h1m0 1h1m0 1h2m0 1h1m0 1h1m0 1h2m0 1h1m0 1h1m0 1h2m0 1h1m0 1h1m0 1h2m0 1h1m0 1h1m0 1h2m0 1h1m0 1h1m0 1h2m0 1h1m0 1h1m0 1h2m0 1h1m0 1h1m0 1h2m0 1h1m0 1h1m0 1h2m0 1h1m0 1h1m0 1h2m0 1h1m0 1h1m0 1h2m0 1h1m0 1h1m0 1h2m0 1h1m0 1h1m0 1h2m0 1h1m0 1h2m0 1h1m0 1h1m0 1h2m0 1h1m0 1h1m0 1h2m0 1h1m0 1h1m0 1h2m0 1h1m0 1h1m0 1h2m0 1h1m0 1h1m0 1h2m0 1h1m0 1h1m0 1h2m0 1h1m0 1h1m0 1h2m0 1h1m0 1h1m0 1h2m0 1h1m0 1h1m0 1h2m0 1h1m0 1h1m0 1h2m0 1h1m0 1h1m0 1h2m0 1h1m0 1h1m0 1h2m0 1h1m0 1h1m0 1h2m0 1h1m0 1h1m0 1h2m0 1h1m0 1h1m0 1h2m0 1h1m0 1h1m0 1h2m0 1h1m0 1h1m0 1h2m0 1h1m0 1h1m0 1h2m0 1h1m0 1h1m0 1h2m0 1h1m0 1h1m0 1h2m0 1h1m0 1h1m0 1h2m0 1h1m0 1h1m0 1h2m0 1h1m0 1h1m0 1h2m0 1h1m0 1h1m0 1h2m0 1h1m0 1h1m0 1h2m0 1h1m0 1h1m0 1h2m0 1h1m0 1h1m0 1h2m0 1h1m0 1h1m0 1h2m0 1h1m0 1h1m0 1h2m0 1h1m0 1h1m0 1h2m0 1h1m0 1h1m0 1h2m0 1h1m0 1h1m0 1h2m0 1h1m0 1h2m0 1h1m0 1h1m0 1h2m0 1h1m0 1h1m0 1h2m0 1h1m0 1h1m0 1h2m0 1h1m0 1h1m0 1h2m0 1h1m0 1h1m0 1h2m0 1h1m0 1h1m0 1h2m0 1h1m0 1h1m0 1h2m0 1h1m0 1h1m0 1h2m0 1h1m0 1h1m0 1h2m0 1h1m0 1h1m0 1h2m0 1h1m0 1h1m0 1h2m0 1h1m0 1h1m0 1h2m0 1h1m0 1h1m0 1h2m0 1h1m0 1h1m0 1h2m0 1h1m0 1h1m0 1h2m0 1h1m0 1h1m0 1h2m0 1h1m0 1h1m0 1h2m0 1h1m-521 -413h1m0 1h2m0 1h1m0 1h1m0 1h2m0 1h1m0 1h1m0 1h2m0 1h1m0 1h2m0 1h1m0 1h1m0 1h2m0 1h1m0 1h1m0 1h2m0 1h1m0 1h2m0 1h1m0 1h1m0 1h2m0 1h1m0 1h2m0 1h1m0 1h1m0 1h2m0 1h1m0 1h1m0 1h2m0 1h1m0 1h2m0 1h1m0 1h1m0 1h2m0 1h1m0 1h1m0 1h2m0 1h1m0 1h2m0 1h1m0 1h1m0 1h2m0 1h1m0 1h1m0 1h2m0 1h1m0 1h2m0 1h1m0 1h1m0 1h2m0 1h1m0 1h2m0 1h1m0 1h1m0 1h2m0 1h1m0 1h1m0 1h2m0 1h1m0 1h2m0 1h1m0 1h1m0 1h2m0 1h1m0 1h1m0 1h2m0 1h1m0 1h2m0 1h1m0 1h1m0 1h2m0 1h1m0 1h2m0 1h1m0 1h1m0 1h2m0 1h1m0 1h1m0 1h2m0 1h1m0 1h2m0 1h1m0 1h1m0 1h2m0 1h1m0 1h1m0 1h2m0 1h1m0 1h2m0 1h1m0 1h1m0 1h2m0 1h1m0 1h2m0 1h1m0 1h1m0 1h2m0 1h1m0 1h1m0 1h2m0 1h1m0 1h2m0 1h1m0 1h1m0 1h2m0 1h1m0 1h1m0 1h2m0 1h1m0 1h2m0 1h1m0 1h1m0 1h2m0 1h1m0 1h1m0 1h2m0 1h1m0 1h2m0 1h1m0 1h1m0 1h2m0 1h1m0 1h2m0 1h1m0 1h1m0 1h2m0 1h1m0 1h1m0 1h2m0 1h1m0 1h2m0 1h1m0 1h1m0 1h2m0 1h1m0 1h1m0 1h2m0 1h1m0 1h2m0 1h1m0 1h1m0 1h2m0 1h1m0 1h2m0 1h1m0 1h1m0 1h2m0 1h1m0 1h1m0 1h2m0 1h1m0 1h2m0 1h1m0 1h1m0 1h2m0 1h1m0 1h1m0 1h2m0 1h1m0 1h2m0 1h1m0 1h1m0 1h2m0 1h1m0 1h2m0 1h1m0 1h1m0 1h2m0 1h1m0 1h1m0 1h2m0 1h1m0 1h2m0 1h1m0 1h1m0 1h2m0 1h1m0 1h1m0 1h2m0 1h1m0 1h2m0 1h1m0 1h1m0 1h2m0 1h1m0 1h2m0 1h1m0 1h1m0 1h2m0 1h1m0 1h1m0 1h2m0 1h1m0 1h2m0 1h1m0 1h1m0 1h2m0 1h1m0 1h1m0 1h2m0 1h1m0 1h2m0 1h1m0 1h1m0 1h2m0 1h1m0 1h2m0 1h1m0 1h1m0 1h2m0 1h1m0 1h1m0 1h2m0 1h1m0 1h2m0 1h1m0 1h1m0 1h2m0 1h1m0 1h2m0 1h1m0 1h1m0 1h2m0 1h1m0 1h1m0 1h2m0 1h1m0 1h2m0 1h1m0 1h1m0 1h2m0 1h1m0 1h1m0 1h2m0 1h1m0 1h2m0 1h1m0 1h1m0 1h2m0 1h1m0 1h2m0 1h1m0 1h1m0 1h2m0 1h1m0 1h1m0 1h2m0 1h1m0 1h2m0 1h1m0 1h1m0 1h2m0 1h1m0 1h1m0 1h2m0 1h1m0 1h2m0 1h1m0 1h1m0 1h2m0 1h1m0 1h2m0 1h1m0 1h1m0 1h2m0 1h1m0 1h1m0 1h2m0 1h1m0 1h2m0 1h1m0 1h1m0 1h2m0 1h1m0 1h2m0 1h1m0 1h1m0 1h2m0 1h1m0 1h1m0 1h2m0 1h1m0 1h2m0 1h1m0 1h1m0 1h2m0 1h1m0 1h1m0 1h2m0 1h1m0 1h2m0 1h1m0 1h1m0 1h2m0 1h1m0 1h2m0 1h1m0 1h1m0 1h2m0 1h1m0 1h1m0 1h2m0 1h1m0 1h2m0 1h1m0 1h1m0 1h2m0 1h1m0 1h2m0 1h1m0 1h1m0 1h2m0 1h1m0 1h1m0 1h2m0 1h1m0 1h2m0 1h1m0 1h1m0 1h2m0 1h1m0 1h1m0 1h2m0 1h1m0 1h2m0 1h1m0 1h1m0 1h2m0 1h1m0 1h2m0 1h1m0 1h1m0 1h2m0 1h1m0 1h1m0 1h2m0 1h1m0 1h2m0 1h1m0 1h1m0 1h2m0 1h1m0 1h2m0 1h1m0 1h1m0 1h2m0 1h1m0 1h1m0 1h2m0 1h1m0 1h2m0 1h1m0 1h1m0 1h2m0 1h1m0 1h1m0 1h2m0 1h1m0 1h2m0 1h1m0 1h1m0 1h2m0 1h1m0 1h2m0 1h1m0 1h1m0 1h2m0 1h1m0 1h1m0 1h2m0 1h1m0 1h2m0 1h1m0 1h1m0 1h2m0 1h1m0 1h2m0 1h1m0 1h1m0 1h2m0 1h1m0 1h1m0 1h2m0 1h1m0 1h2m0 1h1m0 1h1m0 1h2m0 1h1m0 1h2m0 1h1m0 1h1m0 1h2m0 1h1m0 1h1m0 1h2m0 1h1m0 1h2m0 1h1m0 1h1m0 1h2m0 1h1m0 1h1m0 1h2m0 1h1m0 1h2m0 1h1m0 1h1m0 1h2m0 1h1m0 1h2m0 1h1m0 1h1m0 1h2m-572 -435h2m0 1h1m0 1h2m0 1h1m0 1h1m0 1h2m0 1h1m0 1h2m0 1h1m0 1h1m0 1h2m0 1h1m0 1h2m0 1h1m0 1h2m0 1h1m0 1h1m0 1h2m0 1h1m0 1h2m0 1h1m0 1h2m0 1h1m0 1h1m0 1h2m0 1h1m0 1h2m0 1h1m0 1h2m0 1h1m0 1h1m0 1h2m0 1h1m0 1h2m0 1h1m0 1h2m0 1h1m0 1h1m0 1h2m0 1h1m0 1h2m0 1h1m0 1h2m0 1h1m0 1h1m0 1h2m0 1h1m0 1h2m0 1h1m0 1h1m0 1h2m0 1h1m0 1h2m0 1h1m0 1h2m0 1h1m0 1h1m0 1h2m0 1h1m0 1h2m0 1h1m0 1h2m0 1h1m0 1h1m0 1h2m0 1h1m0 1h2m0 1h1m0 1h2m0 1h1m0 1h1m0 1h2m0 1h1m0 1h2m0 1h1m0 1h2m0 1h1m0 1h1m0 1h2m0 1h1m0 1h2m0 1h1m0 1h2m0 1h1m0 1h1m0 1h2m0 1h1m0 1h2m0 1h1m0 1h1m0 1h2m0 1h1m0 1h2m0 1h1m0 1h2m0 1h1m0 1h1m0 1h2m0 1h1m0 1h2m0 1h1m0 1h2m0 1h1m0 1h1m0 1h2m0 1h1m0 1h2m0 1h1m0 1h2m0 1h1m0 1h1m0 1h2m0 1h1m0 1h2m0 1h1m0 1h2m0 1h1m0 1h1m0 1h2m0 1h1m0 1h2m0 1h1m0 1h2m0 1h1m0 1h1m0 1h2m0 1h1m0 1h2m0 1h1m0 1h2m0 1h1m0 1h1m0 1h2m0 1h1m0 1h2m0 1h1m0 1h2m0 1h1m0 1h1m0 1h2m0 1h1m0 1h2m0 1h1m0 1h1m0 1h2m0 1h1m0 1h2m0 1h1m0 1h2m0 1h1m0 1h1m0 1h2m0 1h1m0 1h2m0 1h1m0 1h2m0 1h1m0 1h1m0 1h2m0 1h1m0 1h2m0 1h1m0 1h2m0 1h1m0 1h1m0 1h2m0 1h1m0 1h2m0 1h1m0 1h2m0 1h1m0 1h1m0 1h2m0 1h1m0 1h2m0 1h1m0 1h2m0 1h1m0 1h1m0 1h2m0 1h1m0 1h2m0 1h1m0 1h2m0 1h1m0 1h1m0 1h2m0 1h1m0 1h2m0 1h1m0 1h2m0 1h1m0 1h1m0 1h2m0 1h1m0 1h2m0 1h1m0 1h2m0 1h1m0 1h1m0 1h2m0 1h1m0 1h2m0 1h1m0 1h2m0 1h1m0 1h1m0 1h2m0 1h1m0 1h2m0 1h1m0 1h1m0 1h2m0 1h1m0 1h2m0 1h1m0 1h2m0 1h1m0 1h1m0 1h2m0 1h1m0 1h2m0 1h1m0 1h2m0 1h1m0 1h1m0 1h2m0 1h1m0 1h2m0 1h1m0 1h2m0 1h1m0 1h1m0 1h2m0 1h1m0 1h2m0 1h1m0 1h2m0 1h1m0 1h1m0 1h2m0 1h1m0 1h2m0 1h1m0 1h2m0 1h1m0 1h1m0 1h2m0 1h1m0 1h2m0 1h1m0 1h2m0 1h1m0 1h1m0 1h2m0 1h1m0 1h2m0 1h1m0 1h2m0 1h1m0 1h1m0 1h2m0 1h1m0 1h2m0 1h1m0 1h2m0 1h1m0 1h1m0 1h2m0 1h1m0 1h2m0 1h1m0 1h2m0 1h1m0 1h1m0 1h2m0 1h1m0 1h2m0 1h1m0 1h2m0 1h1m0 1h1m0 1h2m0 1h1m0 1h2m0 1h1m0 1h2m0 1h1m0 1h1m0 1h2m0 1h1m0 1h2m0 1h1m0 1h2m0 1h1m0 1h1m0 1h2m0 1h1m0 1h2m0 1h1m0 1h2m0 1h1m0 1h1m0 1h2m0 1h1m0 1h2m0 1h1m0 1h2m0 1h1m0 1h1m0 1h2m0 1h1m0 1h2m0 1h1m0 1h2m0 1h1m0 1h1m0 1h2m0 1h1m0 1h2m0 1h1m0 1h2m0 1h1m0 1h1m0 1h2m0 1h1m0 1h2m0 1h1m0 1h1m0 1h2m0 1h1m0 1h2m0 1h1m0 1h2m0 1h1m0 1h1m0 1h2m0 1h1m0 1h2m0 1h1m0 1h2m0 1h1m0 1h1m0 1h2m0 1h1m0 1h2m0 1h1m0 1h2m0 1h1m0 1h1m0 1h2m0 1h1m0 1h2m0 1h1m0 1h2m0 1h1m0 1h1m0 1h2m0 1h1m0 1h2m0 1h1m0 1h2m0 1h1m0 1h1m0 1h2m0 1h1m0 1h2m0 1h1m0 1h2m0 1h1m0 1h1m0 1h2m0 1h1m0 1h2m0 1h1m0 1h2m0 1h1m0 1h1m0 1h2m0 1h1m0 1h2m0 1h1m0 1h2m0 1h1m0 1h1m0 1h2m0 1h1m0 1h2m0 1h1m0 1h2m0 1h1m0 1h1m0 1h2m0 1h1m0 1h2m0 1h1m0 1h2m0 1h1m0 1h1m0 1h2m0 1h1m0 1h2m0 1h1m0 1h2m0 1h1m0 1h1m0 1h2m0 1h1m0 1h2m0 1h1m0 1h2m0 1h1m0 1h1m0 1h2m0 1h1m0 1h2m0 1h1m0 1h2m0 1h1m0 1h1m0 1h1m-600 -441h2m0 1h1m0 1h2m0 1h1m0 1h1m0 1h2m0 1h1m0 1h2m0 1h1m0 1h2m0 1h1m0 1h2m0 1h1m0 1h2m0 1h1m0 1h2m0 1h1m0 1h2m0 1h1m0 1h2m0 1h1m0 1h1m0 1h2m0 1h1m0 1h2m0 1h1m0 1h2m0 1h1m0 1h2m0 1h1m0 1h2m0 1h1m0 1h2m0 1h1m0 1h2m0 1h1m0 1h2m0 1h1m0 1h1m0 1h2m0 1h1m0 1h2m0 1h1m0 1h2m0 1h1m0 1h2m0 1h1m0 1h2m0 1h1m0 1h2m0 1h1m0 1h2m0 1h1m0 1h2m0 1h1m0 1h1m0 1h2m0 1h1m0 1h2m0 1h1m0 1h2m0 1h1m0 1h2m0 1h1m0 1h2m0 1h1m0 1h2m0 1h1m0 1h2m0 1h1m0 1h2m0 1h1m0 1h1m0 1h2m0 1h1m0 1h2m0 1h1m0 1h2m0 1h1m0 1h2m0 1h1m0 1h2m0 1h1m0 1h2m0 1h1m0 1h2m0 1h1m0 1h2m0 1h1m0 1h1m0 1h2m0 1h1m0 1h2m0 1h1m0 1h2m0 1h1m0 1h2m0 1h1m0 1h2m0 1h1m0 1h2m0 1h1m0 1h2m0 1h1m0 1h2m0 1h1m0 1h1m0 1h2m0 1h1m0 1h2m0 1h1m0 1h2m0 1h1m0 1h2m0 1h1m0 1h2m0 1h1m0 1h2m0 1h1m0 1h2m0 1h1m0 1h2m0 1h1m0 1h1m0 1h2m0 1h1m0 1h2m0 1h1m0 1h2m0 1h1m0 1h2m0 1h1m0 1h2m0 1h1m0 1h2m0 1h1m0 1h2m0 1h1m0 1h2m0 1h1m0 1h1m0 1h2m0 1h1m0 1h2m0 1h1m0 1h2m0 1h1m0 1h2m0 1h1m0 1h2m0 1h1m0 1h2m0 1h1m0 1h2m0 1h1m0 1h2m0 1h1m0 1h2m0 1h1m0 1h1m0 1h2m0 1h1m0 1h2m0 1h1m0 1h2m0 1h1m0 1h2m0 1h1m0 1h2m0 1h1m0 1h2m0 1h1m0 1h2m0 1h1m0 1h2m0 1h1m0 1h1m0 1h2m0 1h1m0 1h2m0 1h1m0 1h2m0 1h1m0 1h2m0 1h1m0 1h2m0 1h1m0 1h2m0 1h1m0 1h2m0 1h1m0 1h2m0 1h1m0 1h2m0 1h1m0 1h1m0 1h2m0 1h1m0 1h2m0 1h1m0 1h2m0 1h1m0 1h2m0 1h1m0 1h2m0 1h1m0 1h2m0 1h1m0 1h2m0 1h1m0 1h2m0 1h1m0 1h1m0 1h2m0 1h1m0 1h2m0 1h1m0 1h2m0 1h1m0 1h2m0 1h1m0 1h2m0 1h1m0 1h2m0 1h1m0 1h2m0 1h1m0 1h2m0 1h1m0 1h1m0 1h2m0 1h1m0 1h2m0 1h1m0 1h2m0 1h1m0 1h2m0 1h1m0 1h2m0 1h1m0 1h2m0 1h1m0 1h2m0 1h1m0 1h2m0 1h1m0 1h2m0 1h1m0 1h1m0 1h2m0 1h1m0 1h2m0 1h1m0 1h2m0 1h1m0 1h2m0 1h1m0 1h2m0 1h1m0 1h2m0 1h1m0 1h2m0 1h1m0 1h2m0 1h1m0 1h2m0 1h1m0 1h1m0 1h2m0 1h1m0 1h2m0 1h1m0 1h2m0 1h1m0 1h2m0 1h1m0 1h2m0 1h1m0 1h2m0 1h1m0 1h2m0 1h1m0 1h2m0 1h1m0 1h1m0 1h2m0 1h1m0 1h2m0 1h1m0 1h2m0 1h1m0 1h2m0 1h1m0 1h2m0 1h1m0 1h2m0 1h1m0 1h2m0 1h1m0 1h2m0 1h1m0 1h2m0 1h1m0 1h1m0 1h2m0 1h1m0 1h2m0 1h1m0 1h2m0 1h1m0 1h2m0 1h1m0 1h2m0 1h1m0 1h2m0 1h1m0 1h2m0 1h1m0 1h2m0 1h1m0 1h2m0 1h1m0 1h1m0 1h2m0 1h1m0 1h2m0 1h1m0 1h2m0 1h1m0 1h2m0 1h1m0 1h2m0 1h1m0 1h2m0 1h1m0 1h2m0 1h1m0 1h2m0 1h1m0 1h2m0 1h1m0 1h1m0 1h2m0 1h1m0 1h2m0 1h1m0 1h2m0 1h1m0 1h2m0 1h1m0 1h2m0 1h1m0 1h2m0 1h1m0 1h2m0 1h1m0 1h2m0 1h1m0 1h2m0 1h1m0 1h1m0 1h2m0 1h1m0 1h2m0 1h1m0 1h2m0 1h1m0 1h2m0 1h1m0 1h2m0 1h1m0 1h2m0 1h1m0 1h2m0 1h1m0 1h2m0 1h1m0 1h2m0 1h1m0 1h1m0 1h2m0 1h1m0 1h2m0 1h1m0 1h2m0 1h1m0 1h2m0 1h1m0 1h2m0 1h1m0 1h2m0 1h1m0 1h2m0 1h1m0 1h2m0 1h1m0 1h2m0 1h1m0 1h1m0 1h2m0 1h1m0 1h2m0 1h1m0 1h2m0 1h1m0 1h2m0 1h1m0 1h1m-600 -427h1m0 1h2m0 1h1m0 1h2m0 1h1m0 1h2m0 1h1m0 1h2m0 1h1m0 1h2m0 1h1m0 1h2m0 1h1m0 1h2m0 1h1m0 1h2m0 1h1m0 1h2m0 1h1m0 1h2m0 1h1m0 1h2m0 1h2m0 1h1m0 1h2m0 1h1m0 1h2m0 1h1m0 1h2m0 1h1m0 1h2m0 1h1m0 1h2m0 1h1m0 1h2m0 1h1m0 1h2m0 1h1m0 1h2m0 1h1m0 1h2m0 1h1m0 1h2m0 1h1m0 1h2m0 1h1m0 1h2m0 1h1m0 1h2m0 1h1m0 1h2m0 1h1m0 1h2m0 1h1m0 1h2m0 1h2m0 1h1m0 1h2m0 1h1m0 1h2m0 1h1m0 1h2m0 1h1m0 1h2m0 1h1m0 1h2m0 1h1m0 1h2m0 1h1m0 1h2m0 1h1m0 1h2m0 1h1m0 1h2m0 1h1m0 1h2m0 1h1m0 1h2m0 1h1m0 1h2m0 1h1m0 1h2m0 1h1m0 1h2m0 1h1m0 1h2m0 1h2m0 1h1m0 1h2m0 1h1m0 1h2m0 1h1m0 1h2m0 1h1m0 1h2m0 1h1m0 1h2m0 1h1m0 1h2m0 1h1m0 1h2m0 1h1m0 1h2m0 1h1m0 1h2m0 1h1m0 1h2m0 1h1m0 1h2m0 1h1m0 1h2m0 1h1m0 1h2m0 1h1m0 1h2m0 1h1m0 1h2m0 1h2m0 1h1m0 1h2m0 1h1m0 1h2m0 1h1m0 1h2m0 1h1m0 1h2m0 1h1m0 1h2m0 1h1m0 1h2m0 1h1m0 1h2m0 1h1m0 1h2m0 1h1m0 1h2m0 1h1m0 1h2m0 1h1m0 1h2m0 1h1m0 1h2m0 1h1m0 1h2m0 1h1m0 1h2m0 1h2m0 1h1m0 1h2m0 1h1m0 1h2m0 1h1m0 1h2m0 1h1m0 1h2m0 1h1m0 1h2m0 1h1m0 1h2m0 1h1m0 1h2m0 1h1m0 1h2m0 1h1m0 1h2m0 1h1m0 1h2m0 1h1m0 1h2m0 1h1m0 1h2m0 1h1m0 1h2m0 1h1m0 1h2m0 1h1m0 1h2m0 1h2m0 1h1m0 1h2m0 1h1m0 1h2m0 1h1m0 1h2m0 1h1m0 1h2m0 1h1m0 1h2m0 1h1m0 1h2m0 1h1m0 1h2m0 1h1m0 1h2m0 1h1m0 1h2m0 1h1m0 1h2m0 1h1m0 1h2m0 1h1m0 1h2m0 1h1m0 1h2m0 1h1m0 1h2m0 1h2m0 1h1m0 1h2m0 1h1m0 1h2m0 1h1m0 1h2m0 1h1m0 1h2m0 1h1m0 1h2m0 1h1m0 1h2m0 1h1m0 1h2m0 1h1m0 1h2m0 1h1m0 1h2m0 1h1m0 1h2m0 1h1m0 1h2m0 1h1m0 1h2m0 1h1m0 1h2m0 1h2m0 1h1m0 1h2m0 1h1m0 1h2m0 1h1m0 1h2m0 1h1m0 1h2m0 1h1m0 1h2m0 1h1m0 1h2m0 1h1m0 1h2m0 1h1m0 1h2m0 1h1m0 1h2m0 1h1m0 1h2m0 1h1m0 1h2m0 1h1m0 1h2m0 1h1m0 1h2m0 1h1m0 1h2m0 1h2m0 1h1m0 1h2m0 1h1m0 1h2m0 1h1m0 1h2m0 1h1m0 1h2m0 1h1m0 1h2m0 1h1m0 1h2m0 1h1m0 1h2m0 1h1m0 1h2m0 1h1m0 1h2m0 1h1m0 1h2m0 1h1m0 1h2m0 1h1m0 1h2m0 1h1m0 1h2m0 1h2m0 1h1m0 1h2m0 1h1m0 1h2m0 1h1m0 1h2m0 1h1m0 1h2m0 1h1m0 1h2m0 1h1m0 1h2m0 1h1m0 1h2m0 1h1m0 1h2m0 1h1m0 1h2m0 1h1m0 1h2m0 1h1m0 1h2m0 1h1m0 1h2m0 1h1m0 1h2m0 1h2m0 1h1m0 1h2m0 1h1m0 1h2m0 1h1m0 1h2m0 1h1m0 1h2m0 1h1m0 1h2m0 1h1m0 1h2m0 1h1m0 1h2m0 1h1m0 1h2m0 1h1m0 1h2m0 1h1m0 1h2m0 1h1m0 1h2m0 1h1m0 1h2m0 1h1m0 1h2m0 1h2m0 1h1m0 1h2m0 1h1m0 1h2m0 1h1m0 1h2m0 1h1m0 1h2m0 1h1m0 1h2m0 1h1m0 1h2m0 1h1m0 1h2m0 1h1m0 1h2m0 1h1m0 1h2m0 1h1m0 1h2m0 1h1m0 1h2m0 1h1m0 1h2m0 1h2m0 1h1m0 1h2m0 1h1m0 1h2m0 1h1m0 1h2m0 1h1m0 1h2m0 1h1m0 1h2m0 1h1m0 1h2m0 1h1m0 1h2m0 1h1m0 1h2m0 1h1m0 1h2m0 1h1m0 1h2m0 1h1m0 1h2m0 1h1m0 1h2m0 1h1m0 1h2m0 1h1m-600 -414h1m0 1h1m0 1h2m0 1h1m0 1h2m0 1h1m0 1h2m0 1h1m0 1h2m0 1h2m0 1h1m0 1h2m0 1h1m0 1h2m0 1h1m0 1h2m0 1h1m0 1h2m0 1h2m0 1h1m0 1h2m0 1h1m0 1h2m0 1h1m0 1h2m0 1h2m0 1h1m0 1h2m0 1h1m0 1h2m0 1h1m0 1h2m0 1h1m0 1h2m0 1h2m0 1h1m0 1h2m0 1h1m0 1h2m0 1h1m0 1h2m0 1h1m0 1h2m0 1h2m0 1h1m0 1h2m0 1h1m0 1h2m0 1h1m0 1h2m0 1h2m0 1h1m0 1h2m0 1h1m0 1h2m0 1h1m0 1h2m0 1h1m0 1h2m0 1h2m0 1h1m0 1h2m0 1h1m0 1h2m0 1h1m0 1h2m0 1h1m0 1h2m0 1h2m0 1h1m0 1h2m0 1h1m0 1h2m0 1h1m0 1h2m0 1h2m0 1h1m0 1h2m0 1h1m0 1h2m0 1h1m0 1h2m0 1h1m0 1h2m0 1h2m0 1h1m0 1h2m0 1h1m0 1h2m0 1h1m0 1h2m0 1h2m0 1h1m0 1h2m0 1h1m0 1h2m0 1h1m0 1h2m0 1h1m0 1h2m0 1h2m0 1h1m0 1h2m0 1h1m0 1h2m0 1h1m0 1h2m0 1h2m0 1h1m0 1h2m0 1h1m0 1h2m0 1h1m0 1h2m0 1h1m0 1h2m0 1h2m0 1h1m0 1h2m0 1h1m0 1h2m0 1h1m0 1h2m0 1h1m0 1h2m0 1h2m0 1h1m0 1h2m0 1h1m0 1h2m0 1h1m0 1h2m0 1h2m0 1h1m0 1h2m0 1h1m0 1h2m0 1h1m0 1h2m0 1h1m0 1h2m0 1h2m0 1h1m0 1h2m0 1h1m0 1h2m0 1h1m0 1h2m0 1h2m0 1h1m0 1h2m0 1h1m0 1h2m0 1h1m0 1h2m0 1h1m0 1h2m0 1h2m0 1h1m0 1h2m0 1h1m0 1h2m0 1h1m0 1h2m0 1h2m0 1h1m0 1h2m0 1h1m0 1h2m0 1h1m0 1h2m0 1h1m0 1h2m0 1h2m0 1h1m0 1h2m0 1h1m0 1h2m0 1h1m0 1h2m0 1h2m0 1h1m0 1h2m0 1h1m0 1h2m0 1h1m0 1h2m0 1h1m0 1h2m0 1h2m0 1h1m0 1h2m0 1h1m0 1h2m0 1h1m0 1h2m0 1h2m0 1h1m0 1h2m0 1h1m0 1h2m0 1h1m0 1h2m0 1h1m0 1h2m0 1h2m0 1h1m0 1h2m0 1h1m0 1h2m0 1h1m0 1h2m0 1h2m0 1h1m0 1h2m0 1h1m0 1h2m0 1h1m0 1h2m0 1h1m0 1h2m0 1h2m0 1h1m0 1h2m0 1h1m0 1h2m0 1h1m0 1h2m0 1h2m0 1h1m0 1h2m0 1h1m0 1h2m0 1h1m0 1h2m0 1h1m0 1h2m0 1h2m0 1h1m0 1h2m0 1h1m0 1h2m0 1h1m0 1h2m0 1h2m0 1h1m0 1h2m0 1h1m0 1h2m0 1h1m0 1h2m0 1h2m0 1h1m0 1h2m0 1h1m0 1h2m0 1h1m0 1h2m0 1h1m0 1h2m0 1h2m0 1h1m0 1h2m0 1h1m0 1h2m0 1h1m0 1h2m0 1h2m0 1h1m0 1h2m0 1h1m0 1h2m0 1h1m0 1h2m0 1h1m0 1h2m0 1h2m0 1h1m0 1h2m0 1h1m0 1h2m0 1h1m0 1h2m0 1h2m0 1h1m0 1h2m0 1h1m0 1h2m0 1h1m0 1h2m0 1h1m0 1h2m0 1h2m0 1h1m0 1h2m0 1h1m0 1h2m0 1h1m0 1h2m0 1h2m0 1h1m0 1h2m0 1h1m0 1h2m0 1h1m0 1h2m0 1h2m0 1h1m0 1h2m0 1h1m0 1h2m0 1h1m0 1h2m0 1h1m0 1h2m0 1h2m0 1h1m0 1h2m0 1h1m0 1h2m0 1h1m0 1h2m0 1h2m0 1h1m0 1h2m0 1h1m0 1h2m0 1h1m0 1h2m0 1h1m0 1h2m0 1h2m0 1h1m0 1h2m0 1h1m0 1h2m0 1h1m0 1h2m0 1h2m0 1h1m0 1h2m0 1h1m0 1h2m0 1h1m0 1h2m0 1h2m0 1h1m0 1h2m0 1h1m0 1h2m0 1h1m0 1h2m0 1h1m0 1h2m0 1h2m0 1h1m0 1h2m0 1h1m0 1h2m0 1h1m0 1h2m0 1h2m0 1h1m0 1h2m0 1h1m0 1h2m0 1h1m0 1h2m0 1h1m0 1h2m0 1h2m0 1h1m0 1h2m0 1h1m0 1h2m0 1h1m0 1h2m0 1h2m0 1h1m0 1h2m0 1h1m0 1h2m0 1h1m0 1h2m0 1h1m-600 -401h1m0 1h2m0 1h2m0 1h1m0 1h2m0 1h1m0 1h2m0 1h2m0 1h1m0 1h2m0 1h1m0 1h2m0 1h2m0 1h1m0 1h2m0 1h1m0 1h2m0 1h2m0 1h1m0 1h2m0 1h1m0 1h2m0 1h2m0 1h1m0 1h2m0 1h1m0 1h2m0 1h2m0 1h1m0 1h2m0 1h1m0 1h2m0 1h2m0 1h1m0 1h2m0 1h1m0 1h2m0 1h2m0 1h1m0 1h2m0 1h2m0 1h1m0 1h2m0 1h1m0 1h2m0 1h2m0 1h1m0 1h2m0 1h1m0 1h2m0 1h2m0 1h1m0 1h2m0 1h1m0 1h2m0 1h2m0 1h1m0 1h2m0 1h1m0 1h2m0 1h2m0 1h1m0 1h2m0 1h1m0 1h2m0 1h2m0 1h1m0 1h2m0 1h1m0 1h2m0 1h2m0 1h1m0 1h2m0 1h2m0 1h1m0 1h2m0 1h1m0 1h2m0 1h2m0 1h1m0 1h2m0 1h1m0 1h2m0 1h2m0 1h1m0 1h2m0 1h1m0 1h2m0 1h2m0 1h1m0 1h2m0 1h1m0 1h2m0 1h2m0 1h1m0 1h2m0 1h1m0 1h2m0 1h2m0 1h1m0 1h2m0 1h2m0 1h1m0 1h2m0 1h1m0 1h2m0 1h2m0 1h1m0 1h2m0 1h1m0 1h2m0 1h2m0 1h1m0 1h2m0 1h1m0 1h2m0 1h2m0 1h1m0 1h2m0 1h1m0 1h2m0 1h2m0 1h1m0 1h2m0 1h1m0 1h2m0 1h2m0 1h1m0 1h2m0 1h2m0 1h1m0 1h2m0 1h1m0 1h2m0 1h2m0 1h1m0 1h2m0 1h1m0 1h2m0 1h2m0 1h1m0 1h2m0 1h1m0 1h2m0 1h2m0 1h1m0 1h2m0 1h1m0 1h2m0 1h2m0 1h1m0 1h2m0 1h1m0 1h2m0 1h2m0 1h1m0 1h2m0 1h2m0 1h1m0 1h2m0 1h1m0 1h2m0 1h2m0 1h1m0 1h2m0 1h1m0 1h2m0 1h2m0 1h1m0 1h2m0 1h1m0 1h2m0 1h2m0 1h1m0 1h2m0 1h1m0 1h2m0 1h2m0 1h1m0 1h2m0 1h1m0 1h2m0 1h2m0 1h1m0 1h2m0 1h2m0 1h1m0 1h2m0 1h1m0 1h2m0 1h2m0 1h1m0 1h2m0 1h1m0 1h2m0 1h2m0 1h1m0 1h2m0 1h1m0 1h2m0 1h2m0 1h1m0 1h2m0 1h1m0 1h2m0 1h2m0 1h1m0 1h2m0 1h2m0 1h1m0 1h2m0 1h1m0 1h2m0 1h2m0 1h1m0 1h2m0 1h1m0 1h2m0 1h2m0 1h1m0 1h2m0 1h1m0 1h2m0 1h2m0 1h1m0 1h2m0 1h1m0 1h2m0 1h2m0 1h1m0 1h2m0 1h2m0 1h1m0 1h2m0 1h1m0 1h2m0 1h2m0 1h1m0 1h2m0 1h1m0 1h2m0 1h2m0 1h1m0 1h2m0 1h1m0 1h2m0 1h2m0 1h1m0 1h2m0 1h1m0 1h2m0 1h2m0 1h1m0 1h2m0 1h1m0 1h2m0 1h2m0 1h1m0 1h2m0 1h2m0 1h1m0 1h2m0 1h1m0 1h2m0 1h2m0 1h1m0 1h2m0 1h1m0 1h2m0 1h2m0 1h1m0 1h2m0 1h1m0 1h2m0 1h2m0 1h1m0 1h2m0 1h2m0 1h1m0 1h2m0 1h1m0 1h2m0 1h2m0 1h1m0 1h2m0 1h1m0 1h2m0 1h2m0 1h1m0 1h2m0 1h1m0 1h2m0 1h2m0 1h1m0 1h2m0 1h1m0 1h2m0 1h2m0 1h1m0 1h2m0 1h2m0 1h1m0 1h2m0 1h1m0 1h2m0 1h2m0 1h1m0 1h2m0 1h1m0 1h2m0 1h2m0 1h1m0 1h2m0 1h1m0 1h2m0 1h2m0 1h1m0 1h2m0 1h1m0 1h2m0 1h2m0 1h1m0 1h2m0 1h2m0 1h1m0 1h2m0 1h1m0 1h2m0 1h2m0 1h1m0 1h2m0 1h1m0 1h2m0 1h2m0 1h1m0 1h2m0 1h1m0 1h2m0 1h2m0 1h1m0 1h2m0 1h2m0 1h1m0 1h2m0 1h1m0 1h2m0 1h2m0 1h1m0 1h2m0 1h1m0 1h2m0 1h2m0 1h1m0 1h2m0 1h1m0 1h2m0 1h2m0 1h1m0 1h2m0 1h1m0 1h2m0 1h2m0 1h1m0 1h2m0 1h2m0 1h1m0 1h2m0 1h1m0 1h2m0 1h2m0 1h1m0 1h2m0 1h1m0 1h1m-600 -390h1m0 1h1m0 1h2m0 1h2m0 1h1m0 1h2m0 1h1m0 1h2m0 1h2m0 1h1m0 1h2m0 1h2m0 1h1m0 1h2m0 1h2m0 1h1m0 1h2m0 1h2m0 1h1m0 1h2m0 1h2m0 1h1m0 1h2m0 1h2m0 1h1m0 1h2m0 1h1m0 1h2m0 1h2m0 1h1m0 1h2m0 1h2m0 1h1m0 1h2m0 1h2m0 1h1m0 1h2m0 1h2m0 1h1m0 1h2m0 1h2m0 1h1m0 1h2m0 1h2m0 1h1m0 1h2m0 1h2m0 1h1m0 1h2m0 1h1m0 1h2m0 1h2m0 1h1m0 1h2m0 1h2m0 1h1m0 1h2m0 1h2m0 1h1m0 1h2m0 1h2m0 1h1m0 1h2m0 1h2m0 1h1m0 1h2m0 1h2m0 1h1m0 1h2m0 1h1m0 1h2m0 1h2m0 1h1m0 1h2m0 1h2m0 1h1m0 1h2m0 1h2m0 1h1m0 1h2m0 1h2m0 1h1m0 1h2m0 1h2m0 1h1m0 1h2m0 1h2m0 1h1m0 1h2m0 1h2m0 1h1m0 1h2m0 1h1m0 1h2m0 1h2m0 1h1m0 1h2m0 1h2m0 1h1m0 1h2m0 1h2m0 1h1m0 1h2m0 1h2m0 1h1m0 1h2m0 1h2m0 1h1m0 1h2m0 1h2m0 1h1m0 1h2m0 1h2m0 1h1m0 1h2m0 1h1m0 1h2m0 1h2m0 1h1m0 1h2m0 1h2m0 1h1m0 1h2m0 1h2m0 1h1m0 1h2m0 1h2m0 1h1m0 1h2m0 1h2m0 1h1m0 1h2m0 1h2m0 1h1m0 1h2m0 1h2m0 1h1m0 1h2m0 1h1m0 1h2m0 1h2m0 1h1m0 1h2m0 1h2m0 1h1m0 1h2m0 1h2m0 1h1m0 1h2m0 1h2m0 1h1m0 1h2m0 1h2m0 1h1m0 1h2m0 1h2m0 1h1m0 1h2m0 1h2m0 1h1m0 1h2m0 1h1m0 1h2m0 1h2m0 1h1m0 1h2m0 1h2m0 1h1m0 1h2m0 1h2m0 1h1m0 1h2m0 1h2m0 1h1m0 1h2m0 1h2m0 1h1m0 1h2m0 1h2m0 1h1m0 1h2m0 1h2m0 1h1m0 1h2m0 1h2m0 1h1m0 1h2m0 1h1m0 1h2m0 1h2m0 1h1m0 1h2m0 1h2m0 1h1m0 1h2m0 1h2m0 1h1m0 1h2m0 1h2m0 1h1m0 1h2m0 1h2m0 1h1m0 1h2m0 1h2m0 1h1m0 1h2m0 1h2m0 1h1m0 1h2m0 1h1m0 1h2m0 1h2m0 1h1m0 1h2m0 1h2m0 1h1m0 1h2m0 1h2m0 1h1m0 1h2m0 1h2m0 1h1m0 1h2m0 1h2m0 1h1m0 1h2m0 1h2m0 1h1m0 1h2m0 1h2m0 1h1m0 1h2m0 1h2m0 1h1m0 1h2m0 1h1m0 1h2m0 1h2m0 1h1m0 1h2m0 1h2m0 1h1m0 1h2m0 1h2m0 1h1m0 1h2m0 1h2m0 1h1m0 1h2m0 1h2m0 1h1m0 1h2m0 1h2m0 1h1m0 1h2m0 1h2m0 1h1m0 1h2m0 1h2m0 1h1m0 1h2m0 1h1m0 1h2m0 1h2m0 1h1m0 1h2m0 1h2m0 1h1m0 1h2m0 1h2m0 1h1m0 1h2m0 1h2m0 1h1m0 1h2m0 1h2m0 1h1m0 1h2m0 1h2m0 1h1m0 1h2m0 1h2m0 1h1m0 1h2m0 1h2m0 1h1m0 1h2m0 1h2m0 1h1m0 1h2m0 1h1m0 1h2m0 1h2m0 1h1m0 1h2m0 1h2m0 1h1m0 1h2m0 1h2m0 1h1m0 1h2m0 1h2m0 1h1m0 1h2m0 1h2m0 1h1m0 1h2m0 1h2m0 1h1m0 1h2m0 1h2m0 1h1m0 1h2m0 1h2m0 1h1m0 1h2m0 1h1m0 1h2m0 1h2m0 1h1m0 1h2m0 1h2m0 1h1m0 1h2m0 1h2m0 1h1m0 1h2m0 1h2m0 1h1m0 1h2m0 1h2m0 1h1m0 1h2m0 1h2m0 1h1m0 1h2m0 1h2m0 1h1m0 1h2m0 1h2m0 1h1m0 1h2m0 1h2m0 1h1m0 1h2m0 1h1m0 1h2m0 1h2m0 1h1m0 1h2m0 1h2m0 1h1m0 1h2m0 1h2m0 1h1m0 1h2m0 1h2m0 1h1m0 1h2m0 1h2m0 1h1m0 1h2m0 1h1m-600 -378h2m0 1h1m0 1h2m0 1h2m0 1h1m0 1h2m0 1h2m0 1h2m0 1h1m0 1h2m0 1h2m0 1h1m0 1h2m0 1h2m0 1h1m0 1h2m0 1h2m0 1h2m0 1h1m0 1h2m0 1h2m0 1h1m0 1h2m0 1h2m0 1h1m0 1h2m0 1h2m0 1h1m0 1h2m0 1h2m0 1h2m0 1h1m0 1h2m0 1h2m0 1h1m0 1h2m0 1h2m0 1h1m0 1h2m0 1h2m0 1h2m0 1h1m0 1h2m0 1h2m0 1h1m0 1h2m0 1h2m0 1h1m0 1h2m0 1h2m0 1h1m0 1h2m0 1h2m0 1h2m0 1h1m0 1h2m0 1h2m0 1h1m0 1h2m0 1h2m0 1h1m0 1h2m0 1h2m0 1h2m0 1h1m0 1h2m0 1h2m0 1h1m0 1h2m0 1h2m0 1h1m0 1h2m0 1h2m0 1h2m0 1h1m0 1h2m0 1h2m0 1h1m0 1h2m0 1h2m0 1h1m0 1h2m0 1h2m0 1h1m0 1h2m0 1h2m0 1h2m0 1h1m0 1h2m0 1h2m0 1h1m0 1h2m0 1h2m0 1h1m0 1h2m0 1h2m0 1h2m0 1h1m0 1h2m0 1h2m0 1h1m0 1h2m0 1h2m0 1h1m0 1h2m0 1h2m0 1h2m0 1h1m0 1h2m0 1h2m0 1h1m0 1h2m0 1h2m0 1h1m0 1h2m0 1h2m0 1h1m0 1h2m0 1h2m0 1h2m0 1h1m0 1h2m0 1h2m0 1h1m0 1h2m0 1h2m0 1h1m0 1h2m0 1h2m0 1h2m0 1h1m0 1h2m0 1h2m0 1h1m0 1h2m0 1h2m0 1h1m0 1h2m0 1h2m0 1h2m0 1h1m0 1h2m0 1h2m0 1h1m0 1h2m0 1h2m0 1h1m0 1h2m0 1h2m0 1h2m0 1h1m0 1h2m0 1h2m0 1h1m0 1h2m0 1h2m0 1h1m0 1h2m0 1h2m0 1h1m0 1h2m0 1h2m0 1h2m0 1h1m0 1h2m0 1h2m0 1h1m0 1h2m0 1h2m0 1h1m0 1h2m0 1h2m0 1h2m0 1h1m0 1h2m0 1h2m0 1h1m0 1h2m0 1h2m0 1h1m0 1h2m0 1h2m0 1h2m0 1h1m0 1h2m0 1h2m0 1h1m0 1h2m0 1h2m0 1h1m0 1h2m0 1h2m0 1h2m0 1h1m0 1h2m0 1h2m0 1h1m0 1h2m0 1h2m0 1h1m0 1h2m0 1h2m0 1h2m0 1h1m0 1h2m0 1h2m0 1h1m0 1h2m0 1h2m0 1h1m0 1h2m0 1h2m0 1h2m0 1h1m0 1h2m0 1h2m0 1h1m0 1h2m0 1h2m0 1h1m0 1h2m0 1h2m0 1h1m0 1h2m0 1h2m0 1h2m0 1h1m0 1h2m0 1h2m0 1h1m0 1h2m0 1h2m0 1h1m0 1h2m0 1h2m0 1h2m0 1h1m0 1h2m0 1h2m0 1h1m0 1h2m0 1h2m0 1h1m0 1h2m0 1h2m0 1h2m0 1h1m0 1h2m0 1h2m0 1h1m0 1h2m0 1h2m0 1h1m0 1h2m0 1h2m0 1h2m0 1h1m0 1h2m0 1h2m0 1h1m0 1h2m0 1h2m0 1h1m0 1h2m0 1h2m0 1h2m0 1h1m0 1h2m0 1h2m0 1h1m0 1h2m0 1h2m0 1h1m0 1h2m0 1h2m0 1h2m0 1h1m0 1h2m0 1h2m0 1h1m0 1h2m0 1h2m0 1h1m0 1h2m0 1h2m0 1h2m0 1h1m0 1h2m0 1h2m0 1h1m0 1h2m0 1h2m0 1h1m0 1h2m0 1h2m0 1h2m0 1h1m0 1h2m0 1h2m0 1h1m0 1h2m0 1h2m0 1h1m0 1h2m0 1h2m0 1h2m0 1h1m0 1h2m0 1h2m0 1h1m0 1h2m0 1h2m0 1h1m0 1h2m0 1h2m0 1h2m0 1h1m0 1h2m0 1h2m0 1h1m0 1h2m0 1h2m0 1h1m0 1h2m0 1h2m0 1h2m0 1h1m0 1h2m0 1h2m0 1h1m0 1h2m0 1h2m0 1h1m0 1h2m0 1h2m0 1h2m0 1h1m0 1h2m0 1h2m0 1h1m0 1h2m0 1h2m0 1h1m0 1h2m0 1h2m0 1h2m0 1h1m0 1h2m0 1h2m0 1h1m0 1h2m0 1h2m0 1h1m0 1h1m-576 -354h2m0 1h2m0 1h1m0 1h2m0 1h2m0 1h2m0 1h1m0 1h2m0 1h2m0 1h1m0 1h2m0 1h2m0 1h2m0 1h1m0 1h2m0 1h2m0 1h2m0 1h1m0 1h2m0 1h2m0 1h2m0 1h1m0 1h2m0 1h2m0 1h2m0 1h1m0 1h2m0 1h2m0 1h2m0 1h1m0 1h2m0 1h2m0 1h2m0 1h1m0 1h2m0 1h2m0 1h1m0 1h2m0 1h2m0 1h2m0 1h1m0 1h2m0 1h2m0 1h2m0 1h1m0 1h2m0 1h2m0 1h2m0 1h1m0 1h2m0 1h2m0 1h2m0 1h1m0 1h2m0 1h2m0 1h2m0 1h1m0 1h2m0 1h2m0 1h2m0 1h1m0 1h2m0 1h2m0 1h2m0 1h1m0 1h2m0 1h2m0 1h1m0 1h2m0 1h2m0 1h2m0 1h1m0 1h2m0 1h2m0 1h2m0 1h1m0 1h2m0 1h2m0 1h2m0 1h1m0 1h2m0 1h2m0 1h2m0 1h1m0 1h2m0 1h2m0 1h2m0 1h1m0 1h2m0 1h2m0 1h2m0 1h1m0 1h2m0 1h2m0 1h2m0 1h1m0 1h2m0 1h2m0 1h2m0 1h1m0 1h2m0 1h2m0 1h1m0 1h2m0 1h2m0 1h2m0 1h1m0 1h2m0 1h2m0 1h2m0 1h1m0 1h2m0 1h2m0 1h2m0 1h1m0 1h2m0 1h2m0 1h2m0 1h1m0 1h2m0 1h2m0 1h2m0 1h1m0 1h2m0 1h2m0 1h2m0 1h1m0 1h2m0 1h2m0 1h2m0 1h1m0 1h2m0 1h2m0 1h2m0 1h1m0 1h2m0 1h2m0 1h1m0 1h2m0 1h2m0 1h2m0 1h1m0 1h2m0 1h2m0 1h2m0 1h1m0 1h2m0 1h2m0 1h2m0 1h1m0 1h2m0 1h2m0 1h2m0 1h1m0 1h2m0 1h2m0 1h2m0 1h1m0 1h2m0 1h2m0 1h2m0 1h1m0 1h2m0 1h2m0 1h2m0 1h1m0 1h2m0 1h2m0 1h2m0 1h1m0 1h2m0 1h2m0 1h2m0 1h1m0 1h2m0 1h2m0 1h1m0 1h2m0 1h2m0 1h2m0 1h1m0 1h2m0 1h2m0 1h2m0 1h1m0 1h2m0 1h2m0 1h2m0 1h1m0 1h2m0 1h2m0 1h2m0 1h1m0 1h2m0 1h2m0 1h2m0 1h1m0 1h2m0 1h2m0 1h2m0 1h1m0 1h2m0 1h2m0 1h2m0 1h1m0 1h2m0 1h2m0 1h2m0 1h1m0 1h2m0 1h2m0 1h2m0 1h1m0 1h2m0 1h2m0 1h2m0 1h1m0 1h2m0 1h2m0 1h1m0 1h2m0 1h2m0 1h2m0 1h1m0 1h2m0 1h2m0 1h2m0 1h1m0 1h2m0 1h2m0 1h2m0 1h1m0 1h2m0 1h2m0 1h2m0 1h1m0 1h2m0 1h2m0 1h2m0 1h1m0 1h2m0 1h2m0 1h2m0 1h1m0 1h2m0 1h2m0 1h2m0 1h1m0 1h2m0 1h2m0 1h2m0 1h1m0 1h2m0 1h2m0 1h2m0 1h1m0 1h2m0 1h2m0 1h2m0 1h1m0 1h2m0 1h2m0 1h2m0 1h1m0 1h2m0 1h2m0 1h1m0 1h2m0 1h2m0 1h2m0 1h1m0 1h2m0 1h2m0 1h2m0 1h1m0 1h2m0 1h2m0 1h2m0 1h1m0 1h2m0 1h2m0 1h2m0 1h1m0 1h2m0 1h2m0 1h2m0 1h1m0 1h2m0 1h2m0 1h2m0 1h1m0 1h2m0 1h2m0 1h2m0 1h1m0 1h2m0 1h2m0 1h2m0 1h1m0 1h2m0 1h2m0 1h2m0 1h1m0 1h2m0 1h2m0 1h2m0 1h1m0 1h2m0 1h2m0 1h2m0 1h1m0 1h2m0 1h2m0 1h2m0 1h1m0 1h2m0 1h2m0 1h2m0 1h1m0 1h2m0 1h2m0 1h1m0 1h2m0 1h2m0 1h2m0 1h1m0 1h2m0 1h2m0 1h2m0 1h1m0 1h1m-550 -330h2m0 1h1m0 1h2m0 1h2m0 1h2m0 1h2m0 1h1m0 1h2m0 1h2m0 1h2m0 1h1m0 1h2m0 1h2m0 1h2m0 1h2m0 1h1m0 1h2m0 1h2m0 1h2m0 1h2m0 1h1m0 1h2m0 1h2m0 1h2m0 1h2m0 1h1m0 1h2m0 1h2m0 1h2m0 1h1m0 1h2m0 1h2m0 1h2m0 1h2m0 1h1m0 1h2m0 1h2m0 1h2m0 1h2m0 1h1m0 1h2m0 1h2m0 1h2m0 1h1m0 1h2m0 1h2m0 1h2m0 1h2m0 1h1m0 1h2m0 1h2m0 1h2m0 1h2m0 1h1m0 1h2m0 1h2m0 1h2m0 1h1m0 1h2m0 1h2m0 1h2m0 1h2m0 1h1m0 1h2m0 1h2m0 1h2m0 1h2m0 1h1m0 1h2m0 1h2m0 1h2m0 1h2m0 1h1m0 1h2m0 1h2m0 1h2m0 1h1m0 1h2m0 1h2m0 1h2m0 1h2m0 1h1m0 1h2m0 1h2m0 1h2m0 1h2m0 1h1m0 1h2m0 1h2m0 1h2m0 1h1m0 1h2m0 1h2m0 1h2m0 1h2m0 1h1m0 1h2m0 1h2m0 1h2m0 1h2m0 1h1m0 1h2m0 1h2m0 1h2m0 1h2m0 1h1m0 1h2m0 1h2m0 1h2m0 1h1m0 1h2m0 1h2m0 1h2m0 1h2m0 1h1m0 1h2m0 1h2m0 1h2m0 1h2m0 1h1m0 1h2m0 1h2m0 1h2m0 1h1m0 1h2m0 1h2m0 1h2m0 1h2m0 1h1m0 1h2m0 1h2m0 1h2m0 1h2m0 1h1m0 1h2m0 1h2m0 1h2m0 1h2m0 1h1m0 1h2m0 1h2m0 1h2m0 1h1m0 1h2m0 1h2m0 1h2m0 1h2m0 1h1m0 1h2m0 1h2m0 1h2m0 1h2m0 1h1m0 1h2m0 1h2m0 1h2m0 1h2m0 1h1m0 1h2m0 1h2m0 1h2m0 1h1m0 1h2m0 1h2m0 1h2m0 1h2m0 1h1m0 1h2m0 1h2m0 1h2m0 1h2m0 1h1m0 1h2m0 1h2m0 1h2m0 1h2m0 1h1m0 1h2m0 1h2m0 1h2m0 1h1m0 1h2m0 1h2m0 1h2m0 1h2m0 1h1m0 1h2m0 1h2m0 1h2m0 1h2m0 1h1m0 1h2m0 1h2m0 1h2m0 1h2m0 1h1m0 1h2m0 1h2m0 1h2m0 1h1m0 1h2m0 1h2m0 1h2m0 1h2m0 1h1m0 1h2m0 1h2m0 1h2m0 1h2m0 1h1m0 1h2m0 1h2m0 1h2m0 1h2m0 1h1m0 1h2m0 1h2m0 1h2m0 1h1m0 1h2m0 1h2m0 1h2m0 1h2m0 1h1m0 1h2m0 1h2m0 1h2m0 1h2m0 1h1m0 1h2m0 1h2m0 1h2m0 1h2m0 1h1m0 1h2m0 1h2m0 1h2m0 1h1m0 1h2m0 1h2m0 1h2m0 1h2m0 1h1m0 1h2m0 1h2m0 1h2m0 1h2m0 1h1m0 1h2m0 1h2m0 1h2m0 1h2m0 1h1m0 1h2m0 1h2m0 1h2m0 1h2m0 1h1m0 1h2m0 1h2m0 1h2m0 1h1m0 1h2m0 1h2m0 1h2m0 1h2m0 1h1m0 1h2m0 1h2m0 1h2m0 1h2m0 1h1m0 1h2m0 1h2m0 1h2m0 1h2m0 1h1m0 1h2m0 1h2m0 1h2m0 1h1m0 1h2m0 1h2m0 1h2m0 1h2m0 1h1m0 1h2m0 1h2m0 1h2m0 1h2m0 1h1m0 1h2m0 1h2m0 1h2m0 1h2m0 1h1m0 1h2m0 1h2m0 1h2m0 1h2m0 1h1m0 1h2m0 1h2m0 1h2m0 1h1m0 1h2m0 1h2m0 1h1"/>
<path stroke="#464200" stroke-width="1" fill="none" d="M0 0m170.5 97v2m1 0v1m1 5v3m1 0v3m1 5v2m1 0v1m1 6v2m1 0v3m1 6v1m1 0v1m1 6v2m1 0v5m1 0v5m2 5v3m1 6v1m1 0v4m2 6v2m1 6v2m1 0v5m2 5v3m1 6v1m1 0v4m2 6v2m1 6v3m1 0v3m0 1v1m1 0v2m1 6v3m1 0v2m1 6v2m2 6v5m1 0v2m1 5v4m1 0v2m1 5v3m2 6v6m1 2v4m1 0v2m1 5v3m2 6v6m1 1v5m1 0v1m1 5v3m1 6v2m1 0v6m1 0v3m1 5v3m2 6v6m1 0v3m1 5v3m1 6v1m1 0v6m1 0v1m1 5v3m1 6v3m1 0v4m1 5v3m1 6v1m1 0v5m1 5v2m1 0v1m1 6v6m1 4v2m1 0v1m1 6v6m1 3v3m2 6v6m1 2v3m1 6v3m1 0v3m1 3v2m1 6v5m1 0v1m0 1v3m1 6v2m1 0v7m1 6v1m1 0v5m-55 -473v3m2 5v5m1 0v1m1 5v3m2 6v3m1 0v2m2 6v2m1 6v1m1 0v5m1 0v4m1 0v2m1 5v3m2 6v3m1 0v2m1 6v1m1 0v1m1 6v3m1 0v4m2 5v3m1 6v1m1 0v4m2 6v2m1 6v1m1 0v5m1 1v3m2 6v5m2 5v3m1 6v1m1 0v5m1 0v1m1 6v4m1 0v1m1 6v3m2 5v5m1 0v1m0 3v2m1 0v3m1 6v1m1 0v1m1 6v4m1 0v2m0 2v1m1 0v4m1 6v1m1 0v1m1 6v4m1 0v5m1 0v2m1 5v3m1 6v1m1 0v5m1 0v3m1 6v2m2 6v5m1 0v3m1 5v3m2 6v6m1 0v1m1 5v3m1 6v2m1 0v4m1 5v3m2 6v6m1 5v1m1 0v1m1 6v4m1 0v2m1 4v2m1 6v4m1 0v2m0 2v2m1 0v1m1 6v6m1 2v3m1 6v1m1 0v5m1 1v3m1 6v3m1 0v6m1 6v1m1 0v5m-40 -472v3m2 5v3m1 0v3m2 5v3m2 5v4m1 0v2m1 5v1m1 0v2m1 5v1m1 0v4m1 0v1m0 1v2m1 0v3m2 5v3m2 6v4m1 0v1m1 6v1m1 0v1m1 6v2m1 0v4m1 0v1m1 6v2m2 6v3m1 0v3m2 5v3m1 5v1m1 0v4m1 0v1m0 1v3m2 6v3m1 0v2m1 6v1m1 0v1m1 6v2m1 0v5m2 6v3m1 0v2m1 6v1m1 0v1m1 6v3m1 0v3m1 3v3m1 0v2m1 6v1m1 0v1m1 6v3m1 0v3m1 2v5m2 6v3m2 5v5m1 0v5m1 0v1m1 6v3m2 5v5m1 0v4m2 6v2m1 6v2m1 0v5m1 0v1m1 6v3m2 5v5m1 0v2m1 6v3m2 5v5m1 0v1m1 5v3m1 6v1m1 0v5m2 5v2m1 6v3m1 0v3m1 3v3m1 6v1m1 0v5m1 2v3m2 6v6m1 3v2m2 6v5m1 0v1m0 1v3m2 6v6m1 0v3m1 6v2m1 0v4m-75 -472v1m1 0v2m2 5v4m1 0v2m1 5v1m1 0v2m2 5v4m1 0v2m1 5v1m1 0v2m2 5v4m1 0v2m0 1v1m1 0v4m2 6v2m2 6v2m1 0v4m2 5v3m2 5v3m1 0v4m2 6v3m2 5v3m1 0v3m2 5v3m1 5v1m1 0v4m1 0v1m0 2v1m1 0v1m1 6v2m1 0v4m2 5v3m2 5v4m1 0v3m2 6v4m1 0v1m1 6v2m2 6v3m1 0v3m1 3v3m1 0v2m1 6v1m1 0v1m1 6v2m1 0v4m1 2v3m1 0v2m1 6v1m1 0v1m1 6v3m1 0v4m1 0v4m2 6v2m1 6v1m1 0v5m1 0v3m2 6v2m1 6v2m1 0v5m1 0v1m1 6v2m2 6v4m1 0v3m1 6v1m1 0v1m1 6v3m1 0v3m1 6v1m1 0v1m1 6v3m1 0v3m1 5v2m2 6v4m1 0v2m1 3v3m1 6v1m1 0v5m1 3v2m2 6v4m1 0v2m0 3v1m1 0v1m1 6v3m1 0v3m1 2v2m1 6v3m1 0v3m0 1v1m1 0v1m1 6v4m1 0v2m-69 -472v3m2 5v2m1 0v4m2 5v2m1 0v1m1 5v1m1 0v4m1 0v1m1 5v1m1 0v2m2 5v4m1 0v2m1 1v4m1 0v2m1 5v1m1 0v2m2 5v4m1 0v2m2 5v3m2 5v4m1 0v3m2 6v2m2 6v2m1 0v4m2 5v3m2 5v2m1 0v4m1 2v2m2 6v2m1 0v4m2 5v3m2 5v3m1 0v4m2 6v3m1 0v3m2 5v3m2 5v4m1 0v2m1 3v4m1 0v1m1 6v1m1 0v1m1 6v1m1 0v5m1 2v2m1 0v4m2 5v3m2 5v4m1 0v5m1 0v3m2 5v3m1 5v1m1 0v4m1 0v5m2 5v3m2 5v5m1 0v4m2 5v3m1 5v1m1 0v4m1 0v2m1 6v1m1 0v1m1 6v2m1 0v4m2 6v2m1 6v1m1 0v5m2 5v3m1 5v1m1 0v4m1 0v1m1 4v2m1 6v2m1 0v4m1 3v2m2 6v4m1 0v2m1 2v3m1 6v1m1 0v5m1 2v3m2 5v5m1 0v1m0 1v3m2 5v4m1 0v2m-90 -471v2m2 5v3m1 0v3m2 5v2m1 0v1m1 5v1m1 0v4m1 0v1m2 5v3m2 5v3m1 0v3m1 1v3m1 0v3m2 5v3m2 5v2m1 0v3m1 0v1m1 5v2m1 0v1m1 5v1m1 0v3m1 0v4m2 5v2m1 0v1m1 5v2m1 0v4m2 5v2m1 0v1m1 5v2m1 0v3m1 0v1m0 2v1m1 0v2m1 5v1m1 0v4m1 0v1m1 5v1m1 0v2m1 5v1m1 0v4m1 0v3m2 5v4m1 0v2m1 5v1m1 0v2m2 5v4m1 0v2m1 3v3m1 0v3m2 5v3m1 5v1m1 0v4m1 0v1m0 2v1m1 0v4m2 6v2m2 6v2m1 0v4m1 0v4m1 0v1m1 6v2m2 6v2m1 0v4m1 0v4m2 5v3m2 5v5m1 0v4m2 5v3m2 5v4m1 0v4m2 5v3m1 5v1m1 0v4m1 0v1m1 6v2m2 6v3m1 0v3m1 5v1m1 0v1m1 6v2m1 0v4m1 4v1m1 0v1m1 6v2m1 0v4m1 3v2m2 6v3m1 0v3m1 3v3m2 5v5m1 0v1m0 2v1m1 0v1m1 6v3m1 0v3m1 1v2m1 6v2m1 0v4m-100 -471v3m2 5v2m1 0v3m2 6v1m1 0v1m2 6v3m1 0v2m2 5v3m2 5v2m1 0v3m1 0v1m1 2v4m1 0v1m2 6v2m2 5v3m1 0v3m2 5v3m2 5v2m1 0v3m1 0v3m2 5v3m2 5v2m1 0v4m2 5v2m1 0v1m1 5v1m1 0v4m1 0v1m0 2v1m1 0v2m2 5v4m1 0v2m2 5v3m2 5v4m1 0v3m2 6v2m1 0v4m2 5v2m2 6v2m1 0v4m1 3v1m1 0v4m1 0v1m1 5v2m1 0v1m1 5v1m1 0v4m1 0v1m0 2v1m1 0v4m2 6v2m2 6v2m1 0v4m1 0v4m1 0v1m1 6v1m1 0v1m1 6v1m1 0v5m1 0v4m2 5v3m2 5v3m1 0v4m1 0v1m1 6v2m2 6v2m1 0v4m1 0v1m1 6v2m2 6v2m1 0v4m2 6v3m2 5v4m1 0v2m1 5v1m1 0v1m1 6v2m1 0v4m1 4v1m1 0v1m1 6v1m1 0v5m1 3v1m1 0v1m1 6v2m1 0v4m1 3v2m2 6v3m1 0v3m1 2v3m1 5v1m1 0v4m1 0v1m0 1v3m2 5v4m1 0v2m-108 -471v1m1 0v2m2 5v3m1 0v2m2 6v2m3 6v3m1 0v2m2 5v3m2 5v2m1 0v3m1 0v1m1 2v4m1 0v1m2 6v2m2 5v3m1 0v3m2 5v2m1 0v1m1 5v1m1 0v3m1 0v4m2 5v2m1 0v1m1 5v1m1 0v3m1 0v2m2 5v3m2 5v3m1 0v3m1 2v2m1 0v1m1 5v1m1 0v4m1 0v1m1 5v1m1 0v2m1 5v1m1 0v3m1 0v4m2 5v2m1 0v4m2 5v3m2 5v2m1 0v4m1 3v1m1 0v3m1 0v2m1 5v1m1 0v2m1 5v1m1 0v4m1 0v1m1 2v4m1 0v2m1 5v1m1 0v2m1 5v1m1 0v4m1 0v4m1 0v3m2 5v3m2 5v4m1 0v4m1 0v2m1 5v1m1 0v2m1 5v1m1 0v4m1 0v4m2 5v3m2 5v3m1 0v4m2 6v2m2 6v3m1 0v4m2 5v3m2 5v4m1 0v2m1 5v1m1 0v1m1 6v1m1 0v5m2 4v3m1 5v1m1 0v4m1 0v1m1 3v3m1 5v1m1 0v4m1 0v1m0 3v1m1 0v1m1 6v1m1 0v5m1 2v2m2 6v3m1 0v3m1 1v2m1 6v1m1 0v5m-99 -471v2m1 0v1m2 5v3m1 0v2m2 6v2m3 6v3m1 0v2m2 5v2m1 0v1m1 5v1m1 0v3m1 0v2m1 2v2m1 0v3m2 6v1m1 0v1m2 6v3m1 0v2m2 5v3m2 5v1m1 0v3m1 0v4m3 6v2m2 5v4m1 0v2m2 5v3m2 5v2m1 0v3m1 0v1m1 2v3m2 5v3m1 0v3m2 5v2m1 0v1m1 5v1m1 0v4m1 0v3m2 5v2m1 0v4m2 5v2m1 0v1m1 5v1m1 0v4m1 0v1m1 3v3m1 0v3m2 5v3m2 5v2m1 0v4m1 2v2m1 0v3m1 0v1m1 5v2m1 0v1m1 5v1m1 0v4m1 0v4m1 0v3m2 5v3m2 5v3m1 0v4m1 0v3m2 5v3m2 5v3m1 0v4m1 0v2m2 5v3m2 5v4m1 0v4m2 5v3m2 5v3m1 0v4m2 5v3m2 5v3m1 0v3m2 5v3m2 5v4m1 0v2m1 4v2m2 6v2m1 0v4m1 3v2m2 6v2m1 0v4m1 3v1m1 0v1m1 6v2m1 0v4m1 2v2m2 6v2m1 0v4m1 1v3m2 5v4m1 0v2m-111 -470v2m2 5v2m1 0v3m3 6v3m2 5v1m1 0v3m1 0v1m2 5v3m2 5v1m1 0v3m1 0v2m1 2v2m1 0v3m2 6v1m1 0v1m2 5v3m1 0v3m2 5v2m1 0v1m2 5v3m1 0v4m1 0v1m2 5v3m2 5v2m1 0v3m1 0v1m1 5v1m1 0v2m2 5v3m1 0v3m2 3v2m2 5v4m1 0v2m2 5v3m2 5v1m1 0v4m1 0v3m2 5v2m1 0v4m2 5v1m1 0v2m2 5v4m1 0v2m1 3v2m1 0v3m1 0v1m1 5v2m1 0v1m1 5v1m1 0v3m1 0v2m1 2v3m1 0v3m2 5v3m2 5v2m1 0v4m1 0v4m1 0v2m2 5v3m2 5v3m1 0v4m1 0v3m2 5v3m2 5v2m1 0v4m1 0v3m2 5v3m2 5v3m1 0v4m1 0v1m1 5v1m1 0v2m1 5v1m1 0v4m1 0v2m2 5v3m2 5v4m1 0v2m1 5v1m1 0v2m1 5v1m1 0v4m1 0v1m1 4v2m2 6v2m1 0v4m1 3v1m1 0v2m1 5v1m1 0v4m1 0v1m1 3v3m2 5v4m1 0v2m0 2v1m1 0v2m1 5v1m1 0v4m1 0v1m0 1v2m2 6v2m1 0v4m-107 -470v2m3 6v3m1 0v2m2 5v1m1 0v2m2 5v2m1 0v3m3 6v2m2 5v1m1 0v3m1 0v2m1 2v2m1 0v3m3 6v3m2 5v1m1 0v3m1 0v1m2 6v2m2 5v2m1 0v3m1 0v3m3 6v3m2 5v1m1 0v4m3 6v2m2 5v2m1 0v3m1 0v1m1 3v2m2 5v2m1 0v4m2 5v1m1 0v2m2 5v3m1 0v3m1 0v2m2 5v3m1 0v3m2 5v2m1 0v1m2 5v4m1 0v2m1 3v1m1 0v4m1 0v1m2 5v3m2 5v3m1 0v3m1 2v1m1 0v4m1 0v1m1 5v1m1 0v2m2 5v3m1 0v4m1 0v3m1 0v2m2 5v3m2 5v3m1 0v3m1 0v4m2 5v2m1 0v1m1 5v1m1 0v3m1 0v4m1 0v1m1 5v1m1 0v2m2 5v4m1 0v4m2 5v2m1 0v1m1 5v1m1 0v4m1 0v2m2 5v3m2 5v3m1 0v3m2 5v3m2 5v3m1 0v3m2 4v3m2 5v4m1 0v2m1 3v2m2 6v2m1 0v4m1 3v1m1 0v2m2 5v4m1 0v2m1 2v3m2 5v4m1 0v2m0 1v1m1 0v2m2 5v4m1 0v2m-123 -476v1m2 5v1m1 0v2m2 5v1m1 0v3m1 0v1m2 5v2m1 0v1m2 5v3m1 0v2m3 6v2m2 5v2m1 0v2m1 0v2m1 2v2m1 0v3m3 6v3m2 5v1m1 0v3m1 0v1m2 5v2m1 0v1m2 5v3m1 0v3m1 0v2m2 6v1m1 0v1m2 5v3m1 0v3m2 5v2m1 0v1m2 5v3m1 0v3m2 3v3m2 5v1m1 0v3m1 0v1m2 6v2m2 5v2m1 0v3m1 0v3m2 6v1m1 0v3m1 0v1m2 5v3m2 5v2m1 0v3m1 0v1m1 3v3m1 0v3m2 5v1m1 0v2m2 5v3m1 0v3m1 2v2m1 0v3m1 0v1m1 5v1m1 0v2m2 5v3m1 0v3m1 0v4m1 0v2m2 5v3m2 5v1m1 0v4m1 0v3m1 0v2m2 5v3m2 5v2m1 0v4m1 0v3m2 5v2m1 0v1m1 5v1m1 0v4m1 0v3m2 5v2m1 0v1m1 5v1m1 0v4m1 0v2m2 5v3m2 5v3m1 0v3m2 5v3m2 5v2m1 0v3m1 0v1m1 4v3m2 5v2m1 0v4m2 3v3m2 5v3m1 0v3m1 3v2m1 0v1m1 5v1m1 0v4m1 0v1m0 2v1m1 0v2m2 5v4m1 0v2m0 1v1m1 0v2m2 5v4m1 0v2m-131 -476v1m2 5v2m1 0v1m2 5v2m1 0v3m3 5v3m3 5v3m1 0v2m3 6v2m2 5v2m1 0v2m1 0v2m1 3v1m1 0v3m1 0v1m2 5v2m1 0v1m2 5v3m1 0v2m2 6v1m1 0v1m2 5v2m1 0v3m1 0v3m3 6v3m2 5v1m1 0v3m1 0v1m2 5v3m2 5v1m1 0v2m1 0v3m1 3v1m1 0v2m2 5v2m1 0v3m3 6v2m2 5v2m1 0v3m1 0v3m3 6v3m1 0v2m2 5v3m2 5v1m1 0v3m1 0v2m1 4v1m1 0v3m1 0v1m2 5v3m2 5v2m1 0v3m1 0v1m1 2v3m1 0v3m2 5v2m1 0v1m2 5v4m1 0v2m1 1v3m1 0v2m2 5v3m2 5v2m1 0v3m1 0v3m1 0v2m2 5v3m2 5v2m1 0v4m1 -1v4m2 5v2m1 0v1m2 5v4m1 0v3m1 0v1m1 5v1m1 0v2m2 5v3m1 0v4m2 5v2m1 0v1m1 5v1m1 0v3m1 0v2m2 5v3m2 5v3m1 0v3m2 4v3m2 5v3m1 0v3m1 3v1m1 0v2m2 5v3m1 0v3m1 3v2m1 0v1m1 5v1m1 0v3m1 0v2m1 2v3m2 5v3m1 0v3m1 1v3m2 5v3m1 0v3m-137 -476v1m2 5v1m1 0v2m2 5v1m1 0v3m1 0v1m2 5v2m1 0v1m2 5v2m1 0v3m3 5v3m3 5v3m1 0v3m2 3v2m1 0v3m2 5v1m1 0v2m2 5v1m1 0v3m1 0v1m2 5v2m1 0v1m2 5v3m1 0v3m1 0v3m3 5v3m2 5v1m1 0v3m1 0v1m2 5v3m3 5v3m1 0v3m2 3v3m2 5v1m1 0v3m1 0v1m2 5v3m2 5v1m1 0v3m1 0v3m1 0v1m2 5v3m1 0v3m2 5v1m1 0v2m2 5v3m1 0v3m2 3v3m1 0v3m2 5v1m1 0v2m2 5v3m1 0v3m2 3v3m1 0v2m2 5v3m2 5v1m1 0v3m1 0v2m1 1v4m1 0v1m2 5v3m2 5v2m1 0v3m1 0v3m1 0v2m2 5v3m2 5v2m1 0v3m1 0v3m1 0v1m1 5v1m1 0v2m2 5v3m1 0v3m1 0v2m2 5v3m2 5v2m1 0v3m1 0v2m2 5v3m2 5v2m1 0v4m2 5v2m1 0v1m2 5v4m1 0v2m1 4v1m1 0v2m2 5v3m1 0v3m1 3v1m1 0v2m2 5v4m1 0v2m1 3v2m1 0v1m1 5v1m1 0v3m1 0v2m1 2v3m2 5v3m1 0v3m1 1v3m2 5v2m1 0v4m-133 -476v1m3 5v3m3 5v3m1 0v2m2 5v1m1 0v2m3 5v3m1 0v2m3 6v2m2 5v1m1 0v2m1 0v3m2 3v2m1 0v3m3 5v3m2 5v1m1 0v2m1 0v2m3 6v2m2 5v2m1 0v2m1 0v3m1 0v2m2 5v1m1 0v2m2 5v2m1 0v3m3 5v3m2 5v1m1 0v3m1 0v2m2 3v3m2 5v1m1 0v3m1 0v1m2 5v3m3 5v3m1 0v3m1 0v3m2 5v1m1 0v3m1 0v1m2 5v3m2 5v1m1 0v3m1 0v2m2 4v3m1 0v2m2 5v2m1 0v1m2 5v3m1 0v3m2 3v3m1 0v2m2 5v2m1 0v1m2 5v3m1 0v3m1 0v4m1 0v2m2 5v2m1 0v1m2 5v3m1 0v3m1 0v4m2 5v1m1 0v2m2 5v2m1 0v4m1 0v3m2 5v1m1 0v2m2 5v3m1 0v3m1 0v2m2 5v3m2 5v1m1 0v4m1 0v2m2 5v2m1 0v1m1 5v1m1 0v3m1 0v2m2 5v3m2 5v2m1 0v3m1 0v1m1 4v2m1 0v1m1 5v1m1 0v3m1 0v2m1 3v2m1 0v1m2 5v4m1 0v2m1 3v2m1 0v1m2 5v4m1 0v2m1 2v3m2 5v2m1 0v3m1 0v1m0 1v2m1 0v1m2 5v4m1 0v2"/>
<path stroke="#0000c8" stroke-width="1" fill="none" d="M0 0m45.5 22v5m1 -7v2m0 5v2m1 -10v1m0 9v1m1 -12v1m0 11v1m1 -13v1m0 11v1m1 -13v1m0 10v1m1 -11v1m0 9v1m1 -10v9m-15 -9v9m1 -10v1m0 9v1m1 -11v1m0 10v1m1 -13v1m0 11v1m1 -13v1m0 10v1m1 -11v1m0 9v1m1 -10v9m-11 -9v1m1 -1v1m1 -3v13m11 115v5m1 -7v2m0 5v2m1 -10v1m0 9v1m1 -12v1m0 11v1m1 -13v1m0 11v1m1 -13v1m0 10v1m1 -11v1m0 9v1m1 -10v9m-15 -9v9m1 -10v1m0 9v1m1 -11v1m0 10v1m1 -13v1m0 11v1m1 -13v1m0 10v1m1 -11v1m0 9v1m1 -10v9m-15 -9v2m0 8v1m1 -12v1m0 8v3m1 -13v1m0 8v1m0 2v1m1 -13v1m0 6v2m0 3v1m1 -13v1m0 5v1m0 5v1m1 -12v1m0 2v2m0 6v1m1 -11v2m0 8v1m11 77v5m1 -7v2m0 5v2m1 -10v1m0 9v1m1 -12v1m0 11v1m1 -13v1m0 11v1m1 -13v1m0 10v1m1 -11v1m0 9v1m1 -10v9m-15 -9v9m1 -10v1m0 9v1m1 -11v1m0 10v1m1 -13v1m0 11v1m1 -13v1m0 10v1m1 -11v1m0 9v1m1 -10v9m-15 -1v2m1 -12v1m0 10v1m1 -12v1m0 11v1m1 -13v1m0 4v1m0 6v1m1 -13v1m0 2v3m0 6v1m1 -13v3m0 2v1m0 5v1m1 -12v1m0 5v5m11 59v5m1 -7v2m0 5v2m1 -10v1m0 9v1m1 -12v1m0 11v1m1 -13v1m0 11v1m1 -13v1m0 10v1m1 -11v1m0 9v1m1 -10v9m-15 -9v9m1 -10v1m0 9v1m1 -11v1m0 10v1m1 -13v1m0 11v1m1 -13v1m0 10v1m1 -11v1m0 9v1m1 -10v9m-15 -4v2m1 -4v2m0 1v1m1 -6v2m0 3v1m1 -8v2m0 5v1m1 -9v13m1 -5v1m1 -1v1m11 51v5m1 -7v2m0 5v2m1 -10v1m0 9v1m1 -12v1m0 11v1m1 -13v1m0 11v1m1 -13v1m0 10v1m1 -11v1m0 9v1m1 -10v9m-15 -9v9m1 -10v1m0 9v1m1 -11v1m0 10v1m1 -13v1m0 11v1m1 -13v1m0 10v1m1 -11v1m0 9v1m1 -10v9m-15 -8v3m0 4v2m1 -12v3m0 2v1m0 5v1m1 -12v1m0 3v1m0 7v1m1 -13v1m0 3v1m0 7v1m1 -13v1m0 4v1m0 6v1m1 -13v1m0 4v1m0 5v1m1 -6v5m11 41v5m1 -7v2m0 5v2m1 -10v1m0 9v1m1 -12v1m0 11v1m1 -13v1m0 11v1m1 -13v1m0 10v1m1 -11v1m0 9v1m1 -10v9m-15 -9v9m1 -10v1m0 9v1m1 -11v1m0 10v1m1 -13v1m0 11v1m1 -13v1m0 10v1m1 -11v1m0 9v1m1 -10v9m-15 -9v9m1 -10v1m0 3v1m0 5v1m1 -11v1m0 3v1m0 6v1m1 -13v1m0 4v1m0 6v1m1 -13v1m0 4v1m0 5v1m1 -11v1m0 3v1m0 5v1m1 -10v1m0 3v5m11 36v5m1 -7v2m0 5v2m1 -10v1m0 9v1m1 -12v1m0 11v1m1 -13v1m0 11v1m1 -13v1m0 10v1m1 -11v1m0 9v1m1 -10v9m-15 -9v9m1 -10v1m0 9v1m1 -11v1m0 10v1m1 -13v1m0 11v1m1 -13v1m0 10v1m1 -11v1m0 9v1m1 -10v9m-15 -11v1m1 -1v1m1 -1v1m0 10v2m1 -13v1m0 7v3m1 -11v1m0 4v3m1 -8v1m0 1v3m1 -5v2m11 40v5m1 -7v2m0 5v2m1 -10v1m0 9v1m1 -12v1m0 11v1m1 -13v1m0 11v1m1 -13v1m0 10v1m1 -11v1m0 9v1m1 -10v9m-15 -9v9m1 -10v1m0 9v1m1 -11v1m0 10v1m1 -13v1m0 11v1m1 -13v1m0 10v1m1 -11v1m0 9v1m1 -10v9m-15 -9v2m0 3v5m1 -11v1m0 2v1m0 1v1m0 4v1m1 -12v1m0 4v1m0 6v1m1 -13v1m0 4v1m0 6v1m1 -13v1m0 4v2m0 5v1m1 -12v1m0 2v1m0 1v1m0 4v1m1 -10v2m0 3v5m11 28v5m1 -7v2m0 5v2m1 -10v1m0 9v1m1 -12v1m0 11v1m1 -13v1m0 11v1m1 -13v1m0 10v1m1 -11v1m0 9v1m1 -10v9m-15 -9v9m1 -10v1m0 9v1m1 -11v1m0 10v1m1 -13v1m0 11v1m1 -13v1m0 10v1m1 -11v1m0 9v1m1 -10v9m-15 -9v5m0 3v1m1 -10v1m0 5v1m0 3v1m1 -12v1m0 6v1m0 4v1m1 -13v1m0 6v1m0 4v1m1 -12v1m0 5v1m0 4v1m1 -12v1m0 5v1m0 3v1m1 -10v9m11 25v5m1 -7v2m0 5v2m1 -10v1m0 9v1m1 -12v1m0 11v1m1 -13v1m0 11v1m1 -13v1m0 10v1m1 -11v1m0 9v1m1 -10v9m-15 -9v9m1 -10v1m0 9v1m1 -11v1m0 10v1m1 -13v1m0 11v1m1 -13v1m0 10v1m1 -11v1m0 9v1m1 -10v9m-15 -9v9m1 -10v1m0 9v1m1 -11v1m0 10v1m1 -13v1m0 11v1m1 -13v1m0 10v1m1 -11v1m0 9v1m1 -10v9m-11 -9v1m1 -1v1m1 -2v1m1 -2v13m17.5 18.5h12m1.5 0.5v3m1 -10v4m0 2v1m0 3v1m1 -11v1m0 3v2m0 4v1m1 -12v1m0 4v1m0 6v1m1 -13v1m0 4v1m0 6v1m1 -13v1m0 4v1m0 6v1m1 -13v1m0 4v2m0 5v1m1 -13v1m0 3v1m0 1v1m0 5v1m1 -12v4m0 2v1m0 3v1m1 -4v3m2 -7v5m1 -7v2m0 5v2m1 -10v1m0 9v1m1 -11v1m0 10v1m1 -13v1m0 11v1m1 -13v1m0 11v1m1 -13v1m0 10v1m1 -11v1m0 9v1m1 -10v2m0 5v2m1 -7v5m16.5 -1.5h12m1.5 -7.5v1m1 -1v1m1 -1v1m1 -1v1m0 10v2m1 -13v1m0 8v2m1 -11v1m0 6v2m1 -9v1m0 4v2m1 -7v1m0 2v2m1 -5v3m1 -3v1m2 3v5m1 -7v2m0 5v2m1 -10v1m0 9v1m1 -11v1m0 10v1m1 -13v1m0 11v1m1 -13v1m0 11v1m1 -13v1m0 10v1m1 -11v1m0 9v1m1 -10v2m0 5v2m1 -7v5m16.5 -1.5h11m2.5 -3.5v5m1 -7v2m0 2v1m0 2v2m1 -10v1m0 3v1m0 5v1m1 -11v1m0 3v1m0 6v1m1 -13v1m0 4v1m0 6v1m1 -13v1m0 4v1m0 6v1m1 -13v1m0 4v1m0 5v1m1 -12v1m0 4v1m0 5v1m1 -11v2m0 3v2m0 2v1m1 -3v2m1 -6v5m1 -7v2m0 5v2m1 -10v1m0 9v1m1 -11v1m0 10v1m1 -13v1m0 11v1m1 -13v1m0 11v1m1 -13v1m0 10v1m1 -11v1m0 9v1m1 -10v2m0 5v2m1 -7v5m17.5 -1.5h11m1.5 2.5v1m1 -11v6m0 5v1m1 -12v1m0 4v1m0 5v1m1 -12v1m0 3v1m0 7v1m1 -13v1m0 3v1m0 7v1m1 -13v1m0 3v1m0 7v1m1 -13v1m0 3v1m0 7v1m1 -13v1m0 4v1m0 6v1m1 -13v1m0 4v1m0 5v1m1 -12v1m0 5v1m0 3v1m1 -4v3m1 -6v5m1 -7v2m0 5v2m1 -10v1m0 9v1m1 -11v1m0 10v1m1 -13v1m0 11v1m1 -13v1m0 11v1m1 -13v1m0 10v1m1 -11v1m0 9v1m1 -10v2m0 5v2m1 -7v5m17.5 -1.5h11m1.5 0.5v1m1 -2v2m1 -3v1m0 1v1m1 -5v2m0 2v1m1 -6v1m0 4v1m1 -7v1m0 5v1m1 -8v1m0 6v1m1 -9v13m1 -5v1m1 -1v1m1 -1v1m1 -5v5m1 -7v2m0 5v2m1 -10v1m0 9v1m1 -11v1m0 10v1m1 -13v1m0 11v1m1 -13v1m0 11v1m1 -13v1m0 10v1m1 -11v1m0 9v1m1 -10v2m0 5v2m1 -7v5m17.5 -1.5h11m1.5 2.5v1m1 -11v1m0 10v1m1 -12v1m0 10v1m1 -12v1m0 11v1m1 -13v1m0 11v1m1 -13v1m0 4v1m0 6v1m1 -13v1m0 3v2m0 6v1m1 -13v1m0 1v2m0 1v1m0 6v1m1 -13v2m0 3v1m0 5v1m1 -12v1m0 4v2m0 3v1m1 -4v3m1 -6v5m1 -7v2m0 5v2m1 -10v1m0 9v1m1 -11v1m0 10v1m1 -13v1m0 11v1m1 -13v1m0 11v1m1 -13v1m0 10v1m1 -11v1m0 9v1m1 -10v2m0 5v2m1 -7v5m17.5 -1.5h11m1.5 4.5v1m1 -12v3m0 7v2m1 -12v1m0 8v1m0 1v1m1 -13v1m0 8v1m0 2v1m1 -13v1m0 8v1m0 2v1m1 -13v1m0 7v1m0 3v1m1 -13v1m0 6v1m0 4v1m1 -12v1m0 4v1m0 5v1m1 -12v1m0 4v1m0 5v1m1 -12v5m0 6v1m1 -1v1m1 -9v5m1 -7v2m0 5v2m1 -10v1m0 9v1m1 -11v1m0 10v1m1 -13v1m0 11v1m1 -13v1m0 11v1m1 -13v1m0 10v1m1 -11v1m0 9v1m1 -10v2m0 5v2m1 -7v5m19.5 -1.5h11m2.5 -5.5v1m1 -1v1m1 -2v1m1 -2v13m3 -9v5m1 -7v2m0 5v2m1 -10v1m0 9v1m1 -11v1m0 10v1m1 -13v1m0 11v1m1 -13v1m0 11v1m1 -13v1m0 10v1m1 -11v1m0 9v1m1 -10v2m0 5v2m1 -7v5m39 -5v5m1 -7v2m0 5v2m1 -10v1m0 9v1m1 -12v1m0 11v1m1 -13v1m0 11v1m1 -13v1m0 11v1m1 -12v1m0 9v1m1 -10v2m0 5v2m1 -7v5m35 -7v1m1 -1v1m1 -2v1m1 -2v13m3 -9v5m1 -7v2m0 5v2m1 -10v1m0 9v1m1 -11v1m0 10v1m1 -13v1m0 11v1m1 -13v1m0 11v1m1 -13v1m0 10v1m1 -11v1m0 9v1m1 -10v2m0 5v2m1 -7v5m33 3v1m1 -12v3m0 7v2m1 -12v1m0 8v1m0 1v1m1 -13v1m0 8v1m0 2v1m1 -13v1m0 7v1m0 3v1m1 -13v1m0 6v1m0 4v1m1 -13v1m0 5v1m0 5v1m1 -12v1m0 4v1m0 5v1m1 -12v5m0 6v1m1 -1v1m1 -9v5m1 -7v2m0 5v2m1 -10v1m0 9v1m1 -11v1m0 10v1m1 -13v1m0 11v1m1 -13v1m0 11v1m1 -13v1m0 10v1m1 -11v1m0 9v1m1 -10v2m0 5v2m1 -7v5m31 1v1m1 -11v1m0 10v1m1 -12v1m0 10v1m1 -12v1m0 11v1m1 -13v1m0 11v1m1 -13v1m0 4v1m0 6v1m1 -13v1m0 2v3m0 6v1m1 -13v3m0 2v1m0 5v1m1 -12v1m0 4v2m0 3v1m1 -4v3m2 -6v5m1 -7v2m0 5v2m1 -10v1m0 9v1m1 -11v1m0 10v1m1 -13v1m0 11v1m1 -13v1m0 11v1m1 -13v1m0 10v1m1 -11v1m0 9v1m1 -10v2m0 5v2m1 -7v5m31 -5v4m1 -6v2m0 4v3m1 -9v1m0 8v1m1 -11v1m0 9v1m1 -12v1m0 11v1m1 -13v1m0 11v1m1 -13v1m0 11v1m1 -13v1m0 11v1m1 -12v1m0 9v1m1 -10v1m0 7v1m1 -8v1m0 5v1m-631.5 -5.5h1m2 0h2m3 0h3m-11 1h3m2 0h1m1 0h1m3 0h1m-12 1h1m5 0h1m4 0h1m-12 1h1m5 0h1m4 0h1m-12 1h1m5 0h1m4 0h1m-12 1h1m5 0h1m4 0h1m-12 1h1m5 0h1m4 0h1m-12 1h1m5 0h1m4 0h1m-12 1h1m5 0h1m4 0h1m0.5 -12.5v13m1 -8v1m0 5v1m1 -8v1m0 7v1m1 -9v1m0 7v1m1 -9v1m0 7v1m1 -8v1m0 5v1m1 -6v5"/>
<path stroke="#464200" stroke-width="1" fill="none" d="M0 0m245.5 587v5m1 -7v2m0 5v2m1 -10v1m0 9v1m1 -11v1m0 10v1m1 -13v1m0 11v1m1 -13v1m0 11v1m1 -13v1m0 10v1m1 -11v1m0 9v1m1 -10v2m0 5v2m1 -7v5m2.5 2.5h2m-2 1h2m1.5 -10.5v1m1 -1v1m1 -1v1m1 -2v1m1 -2v13m13 -9v5m1 -7v2m0 5v2m1 -10v1m0 9v1m1 -11v1m0 10v1m1 -13v1m0 11v1m1 -13v1m0 11v1m1 -13v1m0 10v1m1 -11v1m0 9v1m1 -10v2m0 5v2m1 -7v5m1.5 2.5h2m-2 1h2m2.5 -0.5v1m1 -12v3m0 7v2m1 -12v1m0 8v1m0 1v1m1 -13v1m0 8v1m0 2v1m1 -13v1m0 7v1m0 3v1m1 -13v1m0 6v1m0 4v1m1 -13v1m0 5v1m0 5v1m1 -12v1m0 4v1m0 5v1m1 -12v5m0 6v1m1 -1v1m35 -9v5m1 -7v2m0 5v2m1 -10v1m0 9v1m1 -11v1m0 10v1m1 -13v1m0 11v1m1 -13v1m0 11v1m1 -13v1m0 10v1m1 -11v1m0 9v1m1 -10v2m0 5v2m1 -7v5m1.5 2.5h2m-2 1h2m1.5 -8.5v5m1 -7v2m0 2v1m0 2v2m1 -10v1m0 3v1m0 5v1m1 -11v1m0 3v1m0 6v1m1 -13v1m0 4v1m0 6v1m1 -13v1m0 4v1m0 5v1m1 -12v1m0 4v1m0 5v1m1 -11v2m0 3v2m0 2v1m1 -3v2m10 -8v1m1 -1v1m1 -2v1m1 -2v13m1.5 -1.5h2m-2 1h2m3.5 -8.5v5m1 -7v2m0 5v2m1 -10v1m0 9v1m1 -12v1m0 11v1m1 -13v1m0 11v1m1 -13v1m0 11v1m1 -12v1m0 9v1m1 -10v2m0 5v2m1 -7v5m22 3v1m1 -12v3m0 7v2m1 -12v1m0 8v1m0 1v1m1 -13v1m0 8v1m0 2v1m1 -13v1m0 7v1m0 3v1m1 -13v1m0 6v1m0 4v1m1 -13v1m0 5v1m0 5v1m1 -12v1m0 4v1m0 5v1m1 -12v5m0 6v1m1 -1v1m2.5 -1.5h2m-2 1h2m1.5 -8.5v5m1 -7v2m0 5v2m1 -10v1m0 9v1m1 -12v1m0 11v1m1 -13v1m0 11v1m1 -13v1m0 11v1m1 -12v1m0 9v1m1 -10v2m0 5v2m1 -7v5m3 1v1m1 -11v1m0 10v1m1 -12v1m0 10v1m1 -12v1m0 11v1m1 -13v1m0 11v1m1 -13v1m0 4v1m0 6v1m1 -13v1m0 2v3m0 6v1m1 -13v3m0 2v1m0 5v1m1 -12v1m0 4v2m0 3v1m1 -4v3m2.5 1.5h2m-2 1h2m2.5 -8.5v5m1 -7v2m0 5v2m1 -10v1m0 9v1m1 -12v1m0 11v1m1 -13v1m0 11v1m1 -13v1m0 11v1m1 -12v1m0 9v1m1 -10v2m0 5v2m1 -7v5m12 1v1m1 -11v6m0 5v1m1 -12v1m0 3v1m0 6v1m1 -12v1m0 3v1m0 7v1m1 -13v1m0 3v1m0 7v1m1 -13v1m0 3v1m0 7v1m1 -13v1m0 4v1m0 6v1m1 -13v1m0 4v1m0 5v1m1 -12v1m0 5v1m0 3v1m1 -4v3m2.5 1.5h2m-2 1h2m1.5 -8.5v5m1 -7v2m0 5v2m1 -10v1m0 9v1m1 -12v1m0 11v1m1 -13v1m0 11v1m1 -13v1m0 11v1m1 -12v1m0 9v1m1 -10v2m0 5v2m1 -7v5m25 -7v1m1 -1v1m1 -1v1m1 -2v1m1 -2v13m2 -9v5m1 -7v2m0 5v2m1 -10v1m0 9v1m1 -12v1m0 11v1m1 -13v1m0 11v1m1 -13v1m0 11v1m1 -12v1m0 9v1m1 -10v2m0 5v2m1 -7v5m1.5 2.5h2m-2 1h2m2.5 -8.5v5m1 -7v2m0 5v2m1 -10v1m0 9v1m1 -11v1m0 10v1m1 -13v1m0 11v1m1 -13v1m0 11v1m1 -13v1m0 10v1m1 -11v1m0 9v1m1 -10v2m0 5v2m1 -7v5m24 3v1m1 -12v3m0 7v2m1 -12v1m0 8v1m0 1v1m1 -13v1m0 8v1m0 2v1m1 -13v1m0 8v1m0 2v1m1 -13v1m0 7v1m0 3v1m1 -13v1m0 6v1m0 4v1m1 -12v1m0 4v1m0 5v1m1 -12v1m0 4v1m0 5v1m1 -12v5m0 6v1m1 -1v1m1 -9v5m1 -7v2m0 5v2m1 -10v1m0 9v1m1 -11v1m0 10v1m1 -13v1m0 11v1m1 -13v1m0 11v1m1 -13v1m0 10v1m1 -11v1m0 9v1m1 -10v2m0 5v2m1 -7v5m1.5 2.5h2m-2 1h2m1.5 -8.5v5m1 -7v2m0 5v2m1 -10v1m0 9v1m1 -11v1m0 10v1m1 -13v1m0 11v1m1 -13v1m0 11v1m1 -13v1m0 10v1m1 -11v1m0 9v1m1 -10v2m0 5v2m1 -7v5m24 -1v1m1 -3v3m1 -4v1m0 2v1m1 -5v1m0 3v1m1 -7v2m0 4v1m1 -8v1m0 6v1m1 -9v13m1 -5v1m1 -1v1m1 -1v1m2 -5v5m1 -7v2m0 5v2m1 -10v1m0 9v1m1 -12v1m0 11v1m1 -13v1m0 11v1m1 -13v1m0 11v1m1 -12v1m0 9v1m1 -10v2m0 5v2m1 -7v5m2.5 2.5h2m-2 1h2m2.5 -8.5v5m1 -7v2m0 5v2m1 -10v1m0 9v1m1 -12v1m0 11v1m1 -13v1m0 11v1m1 -13v1m0 11v1m1 -12v1m0 9v1m1 -10v2m0 5v2m1 -7v5m-22 -2v3m1 -4v1m0 3v1m1 -6v1m0 5v1m0 3v1m1 -12v1m0 7v1m0 3v1m1 -13v1m0 7v1m0 3v1m1 -13v1m0 7v1m0 3v1m1 -12v1m0 5v1m0 2v2m1 -12v10m3 0v1m1 -3v2m1 -4v2m1 -4v2m1 -4v2m1 -4v2m1 -4v2m1 -3v1m5 -2v13m1 -4v1m1 -3v2m1 -3v1m0 1v1m1 -4v1m0 3v2m1 -7v1m0 6v1m1 0v1m2 -6v3m1 -4v1m0 3v1m1 -6v1m0 5v1m0 3v1m1 -12v1m0 7v1m0 3v1m1 -13v1m0 7v1m0 3v1m1 -13v1m0 7v1m0 3v1m1 -13v1m0 6v1m0 4v1m1 -12v1m0 5v1m0 2v2m1 -12v10"/>
<path stroke="#000000" stroke-width="1" fill="none" d="M0 0m659.5 387v12m-1 5v7m1 -13v6m-1 6v13m1 0v19m-2 0v12m2 -12v12m-1 11v12m-1 1v8m2 -6v73m-5.5 -160.5h11m-11 32h11m-11 23h11m-11 32h11m-11 56h11m-11 12h11m-13 -123h5m-10 1h5m3 30h3m-8 1h5m-8 1h3m6.5 -3.5v8m-4.5 17.5h6m-11 1h5m7.5 -0.5v1m1 0v2m1 0v1m1 0v1m1 0v2m1 0v1m1 0v1m1 0v2m1 0v1m1 0v1m1 0v2m1 0v1m1 0v1m1 0v2m1 0v1m1 0v1m1 0v2m1 0v1m1 0v1m1 0v2m1 0v1m-0.5 -0.5h1m-2 1h1m-3 1h2m-3 1h1m-2 1h1m-3 1h2m-3 1h1m-18 -9h10m-1 0h3m0 1h6m0 1h5m0 1h6m0 1h5m0 1h6m0 1h3m-5.5 -0.5v9m-37.5 5.5h7m0 1h14m0 1h14m0 1h8m-36 10h1m0 1h1m0 1h2m0 1h1m0 1h1m0 1h2m0 1h1m0 1h1m0 1h1m0 1h2m0 1h1m0 1h1m0 1h2m0 1h1m0 1h1m0 1h1m0 1h2m0 1h1m0 1h1m0 1h2m0 1h1m0 1h1"/>
</svg>
<div class="t" style="left:65px;top:8.80px;font-size:13.5px;line-height:1;transform:scaleX(0.8933)">VGCB (41992) Sounding</div>
<div class="t" style="left:561px;top:8.80px;font-size:13.5px;line-height:1;transform:scaleX(0.9105)">0600Z 20 OCT 25</div>
<div class="t" style="left:698px;top:22.80px;font-size:13.5px;line-height:1;transform:scaleX(0.8935)">WMO:41992</div>
<div class="t" style="left:698px;top:37.80px;font-size:13.5px;line-height:1;transform:scaleX(0.9292)">-PARCEL-</div>
<div class="t" style="left:698px;top:52.80px;font-size:13.5px;line-height:1;transform:scaleX(0.9312)">-WIND-</div>
</body></html>
